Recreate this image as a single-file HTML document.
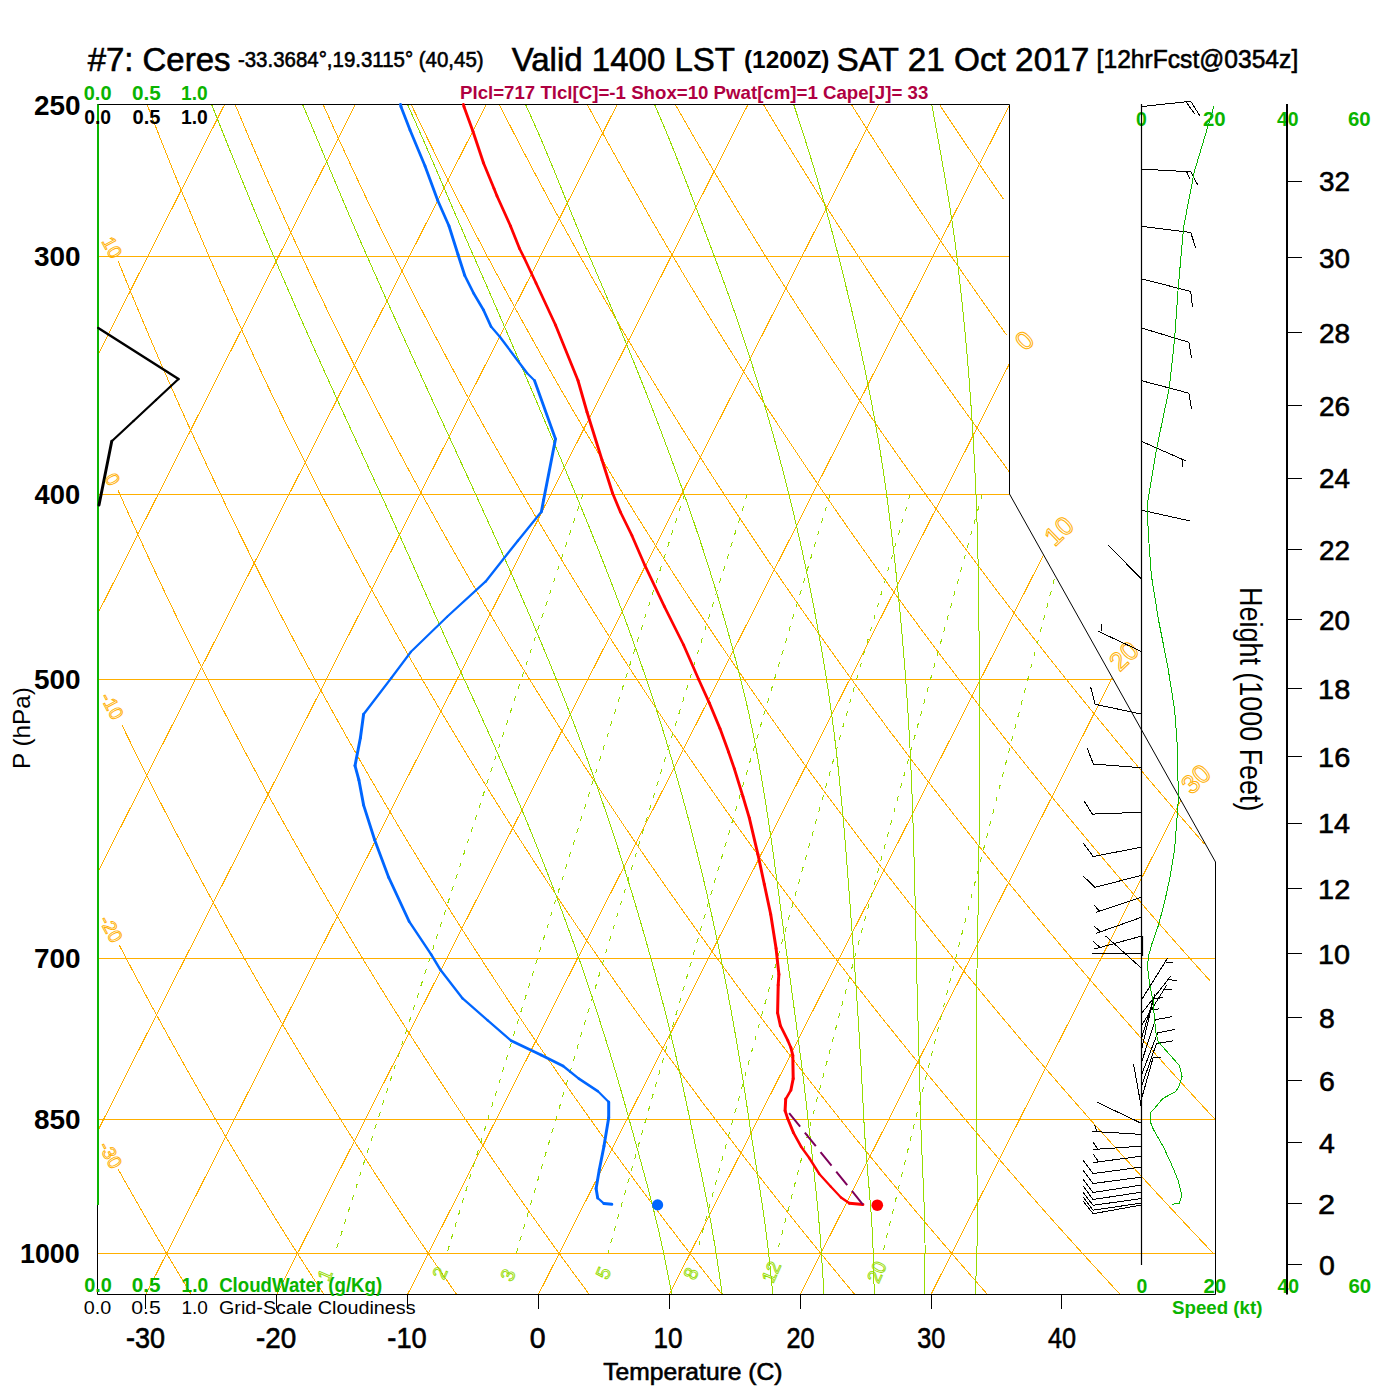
<!DOCTYPE html>
<html><head><meta charset="utf-8"><style>
html,body{margin:0;padding:0;background:#fff;}
svg{display:block;font-family:"Liberation Sans",sans-serif;}
</style></head><body>
<svg width="1400" height="1400" viewBox="0 0 1400 1400">
<rect width="1400" height="1400" fill="#fff"/>
<defs><clipPath id="c"><polygon points="97.5,104.5 1009.5,104.5 1009.5,494.0 1215.5,862.0 1215.5,1294.5 97.5,1294.5"/></clipPath></defs>
<g clip-path="url(#c)" fill="none" shape-rendering="crispEdges">
<line x1="97.00" y1="256.50" x2="1216.00" y2="256.50" stroke="#ffaf00" stroke-width="1"/>
<line x1="97.00" y1="494.50" x2="1216.00" y2="494.50" stroke="#ffaf00" stroke-width="1"/>
<line x1="97.00" y1="679.50" x2="1216.00" y2="679.50" stroke="#ffaf00" stroke-width="1"/>
<line x1="97.00" y1="958.50" x2="1216.00" y2="958.50" stroke="#ffaf00" stroke-width="1"/>
<line x1="97.00" y1="1119.50" x2="1216.00" y2="1119.50" stroke="#ffaf00" stroke-width="1"/>
<line x1="97.00" y1="1253.50" x2="1216.00" y2="1253.50" stroke="#ffaf00" stroke-width="1"/>
<line x1="-642.03" y1="1300.00" x2="-32.30" y2="95.00" stroke="#ffaf00" stroke-width="1"/>
<line x1="-511.18" y1="1300.00" x2="98.55" y2="95.00" stroke="#ffaf00" stroke-width="1"/>
<line x1="-380.33" y1="1300.00" x2="229.40" y2="95.00" stroke="#ffaf00" stroke-width="1"/>
<line x1="-249.48" y1="1300.00" x2="360.25" y2="95.00" stroke="#ffaf00" stroke-width="1"/>
<line x1="-118.63" y1="1300.00" x2="491.10" y2="95.00" stroke="#ffaf00" stroke-width="1"/>
<line x1="12.22" y1="1300.00" x2="621.95" y2="95.00" stroke="#ffaf00" stroke-width="1"/>
<line x1="143.07" y1="1300.00" x2="752.80" y2="95.00" stroke="#ffaf00" stroke-width="1"/>
<line x1="273.92" y1="1300.00" x2="883.65" y2="95.00" stroke="#ffaf00" stroke-width="1"/>
<line x1="404.77" y1="1300.00" x2="1014.50" y2="95.00" stroke="#ffaf00" stroke-width="1"/>
<line x1="535.62" y1="1300.00" x2="1145.35" y2="95.00" stroke="#ffaf00" stroke-width="1"/>
<line x1="666.47" y1="1300.00" x2="1276.20" y2="95.00" stroke="#ffaf00" stroke-width="1"/>
<line x1="797.32" y1="1300.00" x2="1407.05" y2="95.00" stroke="#ffaf00" stroke-width="1"/>
<line x1="928.17" y1="1300.00" x2="1537.90" y2="95.00" stroke="#ffaf00" stroke-width="1"/>
<path d="M118.28,1169.50 L121.56,1175.34 L126.66,1184.39 L131.74,1193.35 L136.80,1202.21 L141.83,1210.97 L146.83,1219.64 L151.82,1228.23 L156.77,1236.72 L161.71,1245.13 L166.62,1253.45 L171.51,1261.70 L176.37,1269.86 L181.21,1277.94 L186.03,1285.94 L190.83,1293.86" stroke="#ffaf00" stroke-width="1"/>
<path d="M119.20,945.00 L119.79,946.12 L126.03,958.04 L132.23,969.79 L138.40,981.37 L144.52,992.80 L150.61,1004.07 L156.67,1015.18 L162.68,1026.15 L168.66,1036.98 L174.61,1047.67 L180.52,1058.22 L186.40,1068.64 L192.24,1078.93 L198.05,1089.09 L203.83,1099.13 L209.58,1109.05 L215.29,1118.85 L220.97,1128.54 L226.62,1138.11 L232.25,1147.58 L237.84,1156.94 L243.40,1166.19 L248.93,1175.34 L254.43,1184.39 L259.91,1193.35 L265.36,1202.21 L270.78,1210.97 L276.17,1219.64 L281.53,1228.23 L286.87,1236.72 L292.18,1245.13 L297.47,1253.45 L302.73,1261.70 L307.96,1269.86 L313.17,1277.94 L318.36,1285.94 L323.52,1293.86" stroke="#ffaf00" stroke-width="1"/>
<path d="M121.68,724.50 L123.19,727.62 L130.74,743.10 L138.22,758.30 L145.65,773.23 L153.03,787.89 L160.35,802.29 L167.61,816.45 L174.82,830.37 L181.98,844.06 L189.09,857.53 L196.14,870.78 L203.15,883.82 L210.11,896.66 L217.02,909.31 L223.88,921.76 L230.70,934.03 L237.47,946.12 L244.20,958.04 L250.88,969.79 L257.52,981.37 L264.12,992.80 L270.68,1004.07 L277.19,1015.18 L283.67,1026.15 L290.10,1036.98 L296.49,1047.67 L302.85,1058.22 L309.17,1068.64 L315.45,1078.93 L321.69,1089.09 L327.90,1099.13 L334.07,1109.05 L340.20,1118.85 L346.30,1128.54 L352.37,1138.11 L358.40,1147.58 L364.40,1156.94 L370.37,1166.19 L376.30,1175.34 L382.20,1184.39 L388.07,1193.35 L393.91,1202.21 L399.72,1210.97 L405.50,1219.64 L411.25,1228.23 L416.97,1236.72 L422.66,1245.13 L428.32,1253.45 L433.95,1261.70 L439.55,1269.86 L445.13,1277.94 L450.68,1285.94 L456.20,1293.86" stroke="#ffaf00" stroke-width="1"/>
<path d="M117.95,490.00 L119.96,494.55 L129.09,515.00 L138.13,534.96 L147.09,554.44 L155.96,573.49 L164.75,592.10 L173.46,610.30 L182.09,628.11 L190.65,645.55 L199.13,662.63 L207.54,679.36 L215.87,695.76 L224.14,711.85 L232.34,727.62 L240.47,743.10 L248.53,758.30 L256.53,773.23 L264.46,787.89 L272.34,802.29 L280.15,816.45 L287.90,830.37 L295.60,844.06 L303.23,857.53 L310.81,870.78 L318.34,883.82 L325.81,896.66 L333.22,909.31 L340.59,921.76 L347.90,934.03 L355.16,946.12 L362.37,958.04 L369.54,969.79 L376.65,981.37 L383.72,992.80 L390.74,1004.07 L397.72,1015.18 L404.65,1026.15 L411.53,1036.98 L418.38,1047.67 L425.18,1058.22 L431.94,1068.64 L438.65,1078.93 L445.33,1089.09 L451.96,1099.13 L458.56,1109.05 L465.12,1118.85 L471.64,1128.54 L478.12,1138.11 L484.56,1147.58 L490.97,1156.94 L497.34,1166.19 L503.67,1175.34 L509.97,1184.39 L516.24,1193.35 L522.47,1202.21 L528.67,1210.97 L534.83,1219.64 L540.96,1228.23 L547.06,1236.72 L553.13,1245.13 L559.17,1253.45 L565.17,1261.70 L571.15,1269.86 L577.09,1277.94 L583.01,1285.94 L588.89,1293.86" stroke="#ffaf00" stroke-width="1"/>
<path d="M118.25,261.30 L127.21,283.43 L138.07,309.73 L148.80,335.22 L159.40,359.94 L169.89,383.95 L180.27,407.28 L190.53,429.97 L200.69,452.06 L210.73,473.58 L220.68,494.55 L230.52,515.00 L240.26,534.96 L249.90,554.44 L259.45,573.49 L268.91,592.10 L278.27,610.30 L287.55,628.11 L296.74,645.55 L305.85,662.63 L314.88,679.36 L323.82,695.76 L332.69,711.85 L341.48,727.62 L350.19,743.10 L358.83,758.30 L367.40,773.23 L375.90,787.89 L384.33,802.29 L392.69,816.45 L400.98,830.37 L409.21,844.06 L417.38,857.53 L425.48,870.78 L433.52,883.82 L441.50,896.66 L449.43,909.31 L457.29,921.76 L465.10,934.03 L472.85,946.12 L480.55,958.04 L488.19,969.79 L495.78,981.37 L503.32,992.80 L510.81,1004.07 L518.24,1015.18 L525.63,1026.15 L532.97,1036.98 L540.26,1047.67 L547.51,1058.22 L554.70,1068.64 L561.86,1078.93 L568.97,1089.09 L576.03,1099.13 L583.05,1109.05 L590.03,1118.85 L596.97,1128.54 L603.86,1138.11 L610.72,1147.58 L617.53,1156.94 L624.31,1166.19 L631.05,1175.34 L637.74,1184.39 L644.40,1193.35 L651.03,1202.21 L657.62,1210.97 L664.17,1219.64 L670.68,1228.23 L677.16,1236.72 L683.61,1245.13 L690.02,1253.45 L696.40,1261.70 L702.74,1269.86 L709.05,1277.94 L715.33,1285.94 L721.58,1293.86" stroke="#ffaf00" stroke-width="1"/>
<path d="M147.38,105.27 L160.03,137.75 L172.51,169.01 L184.83,199.13 L196.99,228.20 L209.00,256.28 L220.85,283.43 L232.56,309.73 L244.12,335.22 L255.55,359.94 L266.84,383.95 L278.00,407.28 L289.03,429.97 L299.93,452.06 L310.72,473.58 L321.39,494.55 L331.94,515.00 L342.38,534.96 L352.72,554.44 L362.94,573.49 L373.07,592.10 L383.09,610.30 L393.01,628.11 L402.84,645.55 L412.58,662.63 L422.22,679.36 L431.77,695.76 L441.24,711.85 L450.62,727.62 L459.92,743.10 L469.14,758.30 L478.28,773.23 L487.34,787.89 L496.32,802.29 L505.23,816.45 L514.07,830.37 L522.83,844.06 L531.52,857.53 L540.15,870.78 L548.71,883.82 L557.20,896.66 L565.63,909.31 L573.99,921.76 L582.30,934.03 L590.54,946.12 L598.72,958.04 L606.84,969.79 L614.91,981.37 L622.92,992.80 L630.87,1004.07 L638.77,1015.18 L646.61,1026.15 L654.40,1036.98 L662.14,1047.67 L669.83,1058.22 L677.47,1068.64 L685.06,1078.93 L692.60,1089.09 L700.10,1099.13 L707.54,1109.05 L714.94,1118.85 L722.30,1128.54 L729.61,1138.11 L736.88,1147.58 L744.10,1156.94 L751.28,1166.19 L758.42,1175.34 L765.51,1184.39 L772.57,1193.35 L779.59,1202.21 L786.56,1210.97 L793.50,1219.64 L800.40,1228.23 L807.26,1236.72 L814.08,1245.13 L820.87,1253.45 L827.62,1261.70 L834.33,1269.86 L841.01,1277.94 L847.65,1285.94 L854.26,1293.86" stroke="#ffaf00" stroke-width="1"/>
<path d="M235.44,105.27 L249.08,137.75 L262.53,169.01 L275.79,199.13 L288.86,228.20 L301.76,256.28 L314.49,283.43 L327.05,309.73 L339.45,335.22 L351.69,359.94 L363.78,383.95 L375.72,407.28 L387.52,429.97 L399.18,452.06 L410.71,473.58 L422.10,494.55 L433.37,515.00 L444.51,534.96 L455.53,554.44 L466.43,573.49 L477.22,592.10 L487.90,610.30 L498.47,628.11 L508.94,645.55 L519.30,662.63 L529.56,679.36 L539.73,695.76 L549.79,711.85 L559.77,727.62 L569.65,743.10 L579.44,758.30 L589.15,773.23 L598.77,787.89 L608.31,802.29 L617.77,816.45 L627.15,830.37 L636.45,844.06 L645.67,857.53 L654.82,870.78 L663.90,883.82 L672.90,896.66 L681.83,909.31 L690.70,921.76 L699.50,934.03 L708.23,946.12 L716.89,958.04 L725.50,969.79 L734.04,981.37 L742.52,992.80 L750.93,1004.07 L759.29,1015.18 L767.59,1026.15 L775.84,1036.98 L784.03,1047.67 L792.16,1058.22 L800.24,1068.64 L808.27,1078.93 L816.24,1089.09 L824.16,1099.13 L832.03,1109.05 L839.86,1118.85 L847.63,1128.54 L855.36,1138.11 L863.03,1147.58 L870.66,1156.94 L878.25,1166.19 L885.79,1175.34 L893.28,1184.39 L900.73,1193.35 L908.14,1202.21 L915.51,1210.97 L922.83,1219.64 L930.11,1228.23 L937.35,1236.72 L944.56,1245.13 L951.72,1253.45 L958.84,1261.70 L965.92,1269.86 L972.97,1277.94 L979.98,1285.94 L986.95,1293.86" stroke="#ffaf00" stroke-width="1"/>
<path d="M323.49,105.27 L338.13,137.75 L352.54,169.01 L366.74,199.13 L380.74,228.20 L394.53,256.28 L408.13,283.43 L421.54,309.73 L434.77,335.22 L447.83,359.94 L460.72,383.95 L473.45,407.28 L486.01,429.97 L498.43,452.06 L510.69,473.58 L522.81,494.55 L534.79,515.00 L546.63,534.96 L558.34,554.44 L569.93,573.49 L581.38,592.10 L592.72,610.30 L603.93,628.11 L615.04,645.55 L626.02,662.63 L636.90,679.36 L647.68,695.76 L658.34,711.85 L668.91,727.62 L679.38,743.10 L689.75,758.30 L700.03,773.23 L710.21,787.89 L720.30,802.29 L730.31,816.45 L740.23,830.37 L750.06,844.06 L759.82,857.53 L769.49,870.78 L779.08,883.82 L788.60,896.66 L798.04,909.31 L807.40,921.76 L816.69,934.03 L825.91,946.12 L835.07,958.04 L844.15,969.79 L853.16,981.37 L862.11,992.80 L871.00,1004.07 L879.82,1015.18 L888.58,1026.15 L897.27,1036.98 L905.91,1047.67 L914.49,1058.22 L923.01,1068.64 L931.47,1078.93 L939.88,1089.09 L948.23,1099.13 L956.53,1109.05 L964.77,1118.85 L972.96,1128.54 L981.10,1138.11 L989.19,1147.58 L997.23,1156.94 L1005.22,1166.19 L1013.16,1175.34 L1021.05,1184.39 L1028.90,1193.35 L1036.70,1202.21 L1044.45,1210.97 L1052.16,1219.64 L1059.83,1228.23 L1067.45,1236.72 L1075.03,1245.13 L1082.57,1253.45 L1090.06,1261.70 L1097.52,1269.86 L1104.93,1277.94 L1112.30,1285.94 L1119.64,1293.86" stroke="#ffaf00" stroke-width="1"/>
<path d="M411.55,105.27 L427.18,137.75 L442.56,169.01 L457.70,199.13 L472.61,228.20 L487.29,256.28 L501.77,283.43 L516.03,309.73 L530.10,335.22 L543.98,359.94 L557.66,383.95 L571.17,407.28 L584.51,429.97 L597.67,452.06 L610.68,473.58 L623.52,494.55 L636.22,515.00 L648.76,534.96 L661.16,554.44 L673.42,573.49 L685.54,592.10 L697.53,610.30 L709.40,628.11 L721.13,645.55 L732.75,662.63 L744.25,679.36 L755.63,695.76 L766.90,711.85 L778.05,727.62 L789.11,743.10 L800.05,758.30 L810.90,773.23 L821.65,787.89 L832.30,802.29 L842.85,816.45 L853.31,830.37 L863.68,844.06 L873.96,857.53 L884.16,870.78 L894.27,883.82 L904.29,896.66 L914.24,909.31 L924.10,921.76 L933.89,934.03 L943.60,946.12 L953.24,958.04 L962.80,969.79 L972.29,981.37 L981.71,992.80 L991.06,1004.07 L1000.34,1015.18 L1009.56,1026.15 L1018.71,1036.98 L1027.80,1047.67 L1036.82,1058.22 L1045.78,1068.64 L1054.68,1078.93 L1063.52,1089.09 L1072.30,1099.13 L1081.02,1109.05 L1089.68,1118.85 L1098.29,1128.54 L1106.85,1138.11 L1115.35,1147.58 L1123.79,1156.94 L1132.19,1166.19 L1140.53,1175.34 L1148.82,1184.39 L1157.06,1193.35 L1165.26,1202.21 L1173.40,1210.97 L1181.50,1219.64 L1189.55,1228.23 L1197.55,1236.72 L1205.51,1245.13 L1213.42,1253.45" stroke="#ffaf00" stroke-width="1"/>
<path d="M499.61,105.27 L516.23,137.75 L532.57,169.01 L548.65,199.13 L564.48,228.20 L580.06,256.28 L595.41,283.43 L610.53,309.73 L625.43,335.22 L640.12,359.94 L654.61,383.95 L668.90,407.28 L683.00,429.97 L696.92,452.06 L710.66,473.58 L724.24,494.55 L737.64,515.00 L750.89,534.96 L763.97,554.44 L776.91,573.49 L789.70,592.10 L802.35,610.30 L814.86,628.11 L827.23,645.55 L839.47,662.63 L851.59,679.36 L863.58,695.76 L875.45,711.85 L887.20,727.62 L898.84,743.10 L910.36,758.30 L921.77,773.23 L933.08,787.89 L944.29,802.29 L955.39,816.45 L966.39,830.37 L977.30,844.06 L988.11,857.53 L998.83,870.78 L1009.45,883.82 L1019.99,896.66 L1030.44,909.31 L1040.81,921.76 L1051.09,934.03 L1061.29,946.12 L1071.41,958.04 L1081.45,969.79 L1091.42,981.37 L1101.31,992.80 L1111.13,1004.07 L1120.87,1015.18 L1130.54,1026.15 L1140.14,1036.98 L1149.68,1047.67 L1159.15,1058.22 L1168.55,1068.64 L1177.88,1078.93 L1187.15,1089.09 L1196.36,1099.13 L1205.51,1109.05 L1214.60,1118.85" stroke="#ffaf00" stroke-width="1"/>
<path d="M587.67,105.27 L605.28,137.75 L622.59,169.01 L639.61,199.13 L656.35,228.20 L672.83,256.28 L689.05,283.43 L705.02,309.73 L720.75,335.22 L736.26,359.94 L751.55,383.95 L766.63,407.28 L781.50,429.97 L796.17,452.06 L810.65,473.58 L824.95,494.55 L839.07,515.00 L853.01,534.96 L866.79,554.44 L880.40,573.49 L893.86,592.10 L907.16,610.30 L920.32,628.11 L933.33,645.55 L946.20,662.63 L958.93,679.36 L971.53,695.76 L984.00,711.85 L996.34,727.62 L1008.56,743.10 L1020.66,758.30 L1032.65,773.23 L1044.52,787.89 L1056.28,802.29 L1067.93,816.45 L1079.47,830.37 L1090.91,844.06 L1102.25,857.53 L1113.49,870.78 L1124.64,883.82 L1135.69,896.66 L1146.64,909.31 L1157.51,921.76 L1168.29,934.03 L1178.98,946.12 L1189.59,958.04 L1200.11,969.79 L1210.55,981.37" stroke="#ffaf00" stroke-width="1"/>
<path d="M675.72,105.27 L694.33,137.75 L712.60,169.01 L730.56,199.13 L748.22,228.20 L765.59,256.28 L782.68,283.43 L799.51,309.73 L816.08,335.22 L832.40,359.94 L848.49,383.95 L864.35,407.28 L879.99,429.97 L895.42,452.06 L910.64,473.58 L925.66,494.55 L940.49,515.00 L955.14,534.96 L969.60,554.44 L983.90,573.49 L998.02,592.10 L1011.98,610.30 L1025.78,628.11 L1039.43,645.55 L1052.92,662.63 L1066.27,679.36 L1079.48,695.76 L1092.55,711.85 L1105.49,727.62 L1118.29,743.10 L1130.97,758.30 L1143.52,773.23 L1155.96,787.89 L1168.27,802.29 L1180.47,816.45 L1192.55,830.37 L1204.53,844.06" stroke="#ffaf00" stroke-width="1"/>
<path d="M763.78,105.27 L783.38,137.75 L802.62,169.01 L821.52,199.13 L840.09,228.20 L858.36,256.28 L876.32,283.43 L894.00,309.73 L911.41,335.22 L928.55,359.94 L945.43,383.95 L962.08,407.28 L978.48,429.97 L994.66,452.06 L1010.62,473.58" stroke="#ffaf00" stroke-width="1"/>
<path d="M851.84,105.27 L872.43,137.75 L892.63,169.01 L912.47,199.13 L931.97,228.20 L951.12,256.28 L969.96,283.43 L988.49,309.73 L1006.73,335.22" stroke="#ffaf00" stroke-width="1"/>
<path d="M939.90,105.27 L961.48,137.75 L982.65,169.01 L1003.43,199.13" stroke="#ffaf00" stroke-width="1"/>
<path d="M205.92,90.23 L208.59,96.95 L211.24,103.61 L213.89,110.22 L216.51,116.78 L219.12,123.29 L221.71,129.75 L224.27,136.16 L226.83,142.52 L229.36,148.83 L231.88,155.09 L234.39,161.31 L236.88,167.48 L239.36,173.60 L241.83,179.68 L244.28,185.71 L246.73,191.71 L249.17,197.65 L251.59,203.56 L254.01,209.42 L256.42,215.24 L258.82,221.03 L261.22,226.77 L263.60,232.47 L265.99,238.13 L268.36,243.76 L270.73,249.35 L273.10,254.89 L275.46,260.41 L277.81,265.88 L280.16,271.32 L282.49,276.73 L284.82,282.10 L287.14,287.43 L289.45,292.73 L291.75,298.00 L294.05,303.23 L296.33,308.43 L298.61,313.60 L300.88,318.74 L303.14,323.84 L305.39,328.92 L307.63,333.96 L309.87,338.97 L312.09,343.95 L314.31,348.91 L316.52,353.83 L318.72,358.72 L320.91,363.59 L323.09,368.42 L325.27,373.23 L327.43,378.01 L329.58,382.77 L331.73,387.49 L333.87,392.19 L336.00,396.86 L338.12,401.51 L340.23,406.13 L342.33,410.73 L344.42,415.30 L346.50,419.84 L348.58,424.36 L350.64,428.85 L352.70,433.33 L354.74,437.77 L356.78,442.20 L358.81,446.60 L360.82,450.97 L362.83,455.33 L364.83,459.66 L366.82,463.96 L368.80,468.25 L370.77,472.51 L372.74,476.76 L374.69,480.98 L376.63,485.18 L378.56,489.35 L380.49,493.51 L382.40,497.65 L384.30,501.76 L386.18,505.86 L388.04,509.93 L389.90,513.99 L391.74,518.02 L393.56,522.04 L395.37,526.03 L397.17,530.01 L398.96,533.97 L400.74,537.91 L402.50,541.83 L404.25,545.73 L405.99,549.62 L407.73,553.48 L409.45,557.33 L411.16,561.16 L412.86,564.97 L414.56,568.77 L416.24,572.54 L417.92,576.30 L419.58,580.05 L421.24,583.77 L422.90,587.48 L424.54,591.18 L426.18,594.85 L427.81,598.52 L429.43,602.16 L431.05,605.79 L432.66,609.40 L434.27,613.00 L435.87,616.58 L437.46,620.15 L439.05,623.70 L440.63,627.23 L442.21,630.75 L443.79,634.26 L445.36,637.75 L446.92,641.23 L448.48,644.69 L450.04,648.14 L451.59,651.57 L453.14,654.99 L454.69,658.39 L456.23,661.78 L457.77,665.16 L459.31,668.52 L460.84,671.87 L462.37,675.21 L463.90,678.53 L465.43,681.84 L466.94,685.14 L468.45,688.42 L469.95,691.69 L471.44,694.95 L472.92,698.20 L474.40,701.43 L475.86,704.65 L477.32,707.85 L478.77,711.05 L480.21,714.23 L481.64,717.40 L483.06,720.56 L484.47,723.71 L485.88,726.84 L487.28,729.96 L488.67,733.07 L490.05,736.17 L491.42,739.26 L492.79,742.34 L494.15,745.40 L495.49,748.46 L496.84,751.50 L498.17,754.53 L499.49,757.55 L500.81,760.56 L502.12,763.56 L503.42,766.54 L504.71,769.52 L506.00,772.49 L507.27,775.44 L508.54,778.39 L509.80,781.32 L511.06,784.24 L512.30,787.16 L513.54,790.06 L514.77,792.96 L516.00,795.84 L517.21,798.71 L518.42,801.58 L519.62,804.43 L520.81,807.27 L522.00,810.11 L523.18,812.93 L524.35,815.75 L525.51,818.55 L526.67,821.35 L527.82,824.13 L528.96,826.91 L530.09,829.68 L531.22,832.44 L532.34,835.19 L533.46,837.93 L534.56,840.66 L535.66,843.38 L536.75,846.09 L537.84,848.80 L538.92,851.49 L539.99,854.18 L541.06,856.86 L542.12,859.53 L543.17,862.19 L544.21,864.84 L545.25,867.48 L546.28,870.12 L547.31,872.75 L548.33,875.37 L549.34,877.98 L550.35,880.58 L551.35,883.17 L552.34,885.76 L553.33,888.34 L554.31,890.91 L555.29,893.47 L556.26,896.03 L557.22,898.57 L558.18,901.11 L559.13,903.64 L560.07,906.16 L561.01,908.68 L561.94,911.19 L562.87,913.69 L563.79,916.18 L564.71,918.67 L565.62,921.14 L566.52,923.62 L567.42,926.08 L568.31,928.53 L569.20,930.98 L570.08,933.42 L570.96,935.86 L571.83,938.29 L572.70,940.71 L573.56,943.12 L574.41,945.52 L575.26,947.92 L576.10,950.32 L576.94,952.70 L577.78,955.08 L578.60,957.45 L579.43,959.81 L580.25,962.17 L581.06,964.52 L581.87,966.87 L582.67,969.21 L583.47,971.54 L584.27,973.86 L585.06,976.18 L585.85,978.49 L586.63,980.80 L587.40,983.10 L588.18,985.39 L588.94,987.68 L589.71,989.96 L590.47,992.23 L591.22,994.50 L591.97,996.76 L592.72,999.02 L593.46,1001.26 L594.20,1003.51 L594.93,1005.74 L595.66,1007.98 L596.38,1010.20 L597.10,1012.42 L597.82,1014.63 L598.53,1016.84 L599.24,1019.04 L599.94,1021.24 L600.64,1023.43 L601.34,1025.61 L602.03,1027.79 L602.72,1029.96 L603.40,1032.13 L604.08,1034.29 L604.76,1036.44 L605.43,1038.59 L606.10,1040.74 L606.77,1042.88 L607.43,1045.01 L608.08,1047.14 L608.74,1049.26 L609.39,1051.38 L610.03,1053.49 L610.67,1055.59 L611.31,1057.70 L611.95,1059.79 L612.58,1061.88 L613.21,1063.97 L613.83,1066.05 L614.45,1068.12 L615.07,1070.19 L615.68,1072.25 L616.29,1074.31 L616.90,1076.37 L617.50,1078.42 L618.10,1080.46 L618.69,1082.50 L619.29,1084.53 L619.88,1086.56 L620.46,1088.58 L621.04,1090.60 L621.62,1092.62 L622.20,1094.63 L622.77,1096.63 L623.34,1098.63 L623.91,1100.62 L624.47,1102.61 L625.03,1104.60 L625.59,1106.58 L626.14,1108.55 L626.69,1110.53 L627.24,1112.49 L627.78,1114.45 L628.32,1116.41 L628.86,1118.36 L629.40,1120.31 L629.93,1122.25 L630.47,1124.19 L631.00,1126.13 L631.54,1128.06 L632.07,1129.98 L632.60,1131.90 L633.13,1133.82 L633.66,1135.73 L634.19,1137.64 L634.72,1139.54 L635.25,1141.44 L635.77,1143.33 L636.30,1145.22 L636.82,1147.11 L637.34,1148.99 L637.86,1150.87 L638.38,1152.74 L638.89,1154.61 L639.41,1156.47 L639.92,1158.33 L640.43,1160.19 L640.94,1162.04 L641.45,1163.89 L641.95,1165.73 L642.46,1167.57 L642.96,1169.41 L643.45,1171.24 L643.95,1173.06 L644.44,1174.89 L644.94,1176.71 L645.42,1178.52 L645.91,1180.33 L646.40,1182.14 L646.88,1183.94 L647.36,1185.74 L647.83,1187.54 L648.31,1189.33 L648.78,1191.12 L649.24,1192.90 L649.71,1194.68 L650.17,1196.46 L650.63,1198.23 L651.09,1200.00 L651.54,1201.77 L651.99,1203.53 L652.44,1205.28 L652.88,1207.04 L653.32,1208.79 L653.76,1210.54 L654.19,1212.28 L654.62,1214.02 L655.05,1215.75 L655.48,1217.48 L655.90,1219.21 L656.31,1220.94 L656.73,1222.66 L657.14,1224.38 L657.55,1226.09 L657.95,1227.80 L658.35,1229.51 L658.74,1231.21 L659.14,1232.91 L659.53,1234.61 L659.91,1236.30 L660.29,1237.99 L660.67,1239.67 L661.04,1241.36 L661.41,1243.04 L661.78,1244.71 L662.14,1246.38 L662.50,1248.05 L662.85,1249.72 L663.20,1251.38 L663.55,1253.04 L663.89,1254.70 L664.23,1256.35 L664.57,1258.00 L664.91,1259.64 L665.24,1261.29 L665.58,1262.92 L665.91,1264.56 L666.24,1266.19 L666.57,1267.82 L666.89,1269.45 L667.22,1271.07 L667.54,1272.69 L667.87,1274.31 L668.19,1275.92 L668.51,1277.53 L668.82,1279.14 L669.14,1280.75 L669.45,1282.35 L669.77,1283.95 L670.08,1285.54 L670.39,1287.13 L670.70,1288.72 L671.00,1290.31 L671.31,1291.89 L671.61,1293.47 L671.91,1295.05 L672.21,1296.62" stroke="#96dc00" stroke-width="1"/>
<path d="M296.51,90.23 L299.36,96.95 L302.19,103.61 L305.01,110.22 L307.80,116.78 L310.55,123.29 L313.28,129.75 L315.98,136.16 L318.65,142.52 L321.30,148.83 L323.92,155.09 L326.53,161.31 L329.11,167.48 L331.68,173.60 L334.23,179.68 L336.77,185.71 L339.29,191.71 L341.81,197.65 L344.31,203.56 L346.80,209.42 L349.28,215.24 L351.75,221.03 L354.22,226.77 L356.68,232.47 L359.13,238.13 L361.58,243.76 L364.03,249.35 L366.48,254.89 L368.92,260.41 L371.35,265.88 L373.77,271.32 L376.18,276.73 L378.58,282.10 L380.97,287.43 L383.35,292.73 L385.71,298.00 L388.07,303.23 L390.42,308.43 L392.75,313.60 L395.08,318.74 L397.39,323.84 L399.70,328.92 L401.99,333.96 L404.27,338.97 L406.54,343.95 L408.81,348.91 L411.06,353.83 L413.29,358.72 L415.52,363.59 L417.74,368.42 L419.95,373.23 L422.14,378.01 L424.33,382.77 L426.50,387.49 L428.66,392.19 L430.81,396.86 L432.95,401.51 L435.08,406.13 L437.20,410.73 L439.30,415.30 L441.40,419.84 L443.48,424.36 L445.56,428.85 L447.62,433.33 L449.67,437.77 L451.71,442.20 L453.74,446.60 L455.75,450.97 L457.76,455.33 L459.75,459.66 L461.73,463.96 L463.71,468.25 L465.66,472.51 L467.61,476.76 L469.55,480.98 L471.48,485.18 L473.39,489.35 L475.29,493.51 L477.18,497.65 L479.06,501.76 L480.93,505.86 L482.79,509.93 L484.63,513.99 L486.46,518.02 L488.28,522.04 L490.09,526.03 L491.89,530.01 L493.68,533.97 L495.45,537.91 L497.21,541.83 L498.97,545.73 L500.71,549.62 L502.43,553.48 L504.15,557.33 L505.86,561.16 L507.55,564.97 L509.23,568.77 L510.91,572.54 L512.57,576.30 L514.22,580.05 L515.85,583.77 L517.48,587.48 L519.10,591.18 L520.70,594.85 L522.30,598.52 L523.88,602.16 L525.45,605.79 L527.01,609.40 L528.56,613.00 L530.10,616.58 L531.63,620.15 L533.15,623.70 L534.66,627.23 L536.16,630.75 L537.64,634.26 L539.12,637.75 L540.59,641.23 L542.04,644.69 L543.49,648.14 L544.92,651.57 L546.35,654.99 L547.76,658.39 L549.17,661.78 L550.57,665.16 L551.95,668.52 L553.33,671.87 L554.69,675.21 L556.05,678.53 L557.39,681.84 L558.73,685.14 L560.05,688.42 L561.37,691.69 L562.67,694.95 L563.96,698.20 L565.25,701.43 L566.52,704.65 L567.78,707.85 L569.03,711.05 L570.27,714.23 L571.51,717.40 L572.73,720.56 L573.94,723.71 L575.14,726.84 L576.34,729.96 L577.52,733.07 L578.70,736.17 L579.86,739.26 L581.02,742.34 L582.16,745.40 L583.30,748.46 L584.43,751.50 L585.55,754.53 L586.66,757.55 L587.77,760.56 L588.86,763.56 L589.95,766.54 L591.02,769.52 L592.09,772.49 L593.15,775.44 L594.21,778.39 L595.25,781.32 L596.29,784.24 L597.32,787.16 L598.34,790.06 L599.35,792.96 L600.36,795.84 L601.36,798.71 L602.35,801.58 L603.33,804.43 L604.30,807.27 L605.27,810.11 L606.23,812.93 L607.19,815.75 L608.14,818.55 L609.08,821.35 L610.01,824.13 L610.93,826.91 L611.85,829.68 L612.77,832.44 L613.67,835.19 L614.57,837.93 L615.47,840.66 L616.35,843.38 L617.23,846.09 L618.11,848.80 L618.98,851.49 L619.84,854.18 L620.69,856.86 L621.54,859.53 L622.39,862.19 L623.23,864.84 L624.06,867.48 L624.88,870.12 L625.71,872.75 L626.52,875.37 L627.33,877.98 L628.13,880.58 L628.93,883.17 L629.73,885.76 L630.52,888.34 L631.30,890.91 L632.08,893.47 L632.85,896.03 L633.62,898.57 L634.38,901.11 L635.14,903.64 L635.89,906.16 L636.64,908.68 L637.38,911.19 L638.12,913.69 L638.85,916.18 L639.58,918.67 L640.31,921.14 L641.03,923.62 L641.74,926.08 L642.45,928.53 L643.16,930.98 L643.86,933.42 L644.56,935.86 L645.26,938.29 L645.95,940.71 L646.63,943.12 L647.31,945.52 L647.99,947.92 L648.67,950.32 L649.34,952.70 L650.00,955.08 L650.66,957.45 L651.32,959.81 L651.98,962.17 L652.62,964.52 L653.27,966.87 L653.91,969.21 L654.55,971.54 L655.18,973.86 L655.80,976.18 L656.43,978.49 L657.05,980.80 L657.66,983.10 L658.27,985.39 L658.88,987.68 L659.48,989.96 L660.08,992.23 L660.67,994.50 L661.26,996.76 L661.85,999.02 L662.43,1001.26 L663.01,1003.51 L663.58,1005.74 L664.15,1007.98 L664.72,1010.20 L665.28,1012.42 L665.84,1014.63 L666.40,1016.84 L666.95,1019.04 L667.50,1021.24 L668.04,1023.43 L668.58,1025.61 L669.12,1027.79 L669.65,1029.96 L670.19,1032.13 L670.71,1034.29 L671.24,1036.44 L671.76,1038.59 L672.27,1040.74 L672.79,1042.88 L673.30,1045.01 L673.80,1047.14 L674.31,1049.26 L674.81,1051.38 L675.30,1053.49 L675.80,1055.59 L676.29,1057.70 L676.78,1059.79 L677.26,1061.88 L677.74,1063.97 L678.22,1066.05 L678.70,1068.12 L679.17,1070.19 L679.64,1072.25 L680.11,1074.31 L680.57,1076.37 L681.03,1078.42 L681.49,1080.46 L681.94,1082.50 L682.39,1084.53 L682.84,1086.56 L683.29,1088.58 L683.73,1090.60 L684.18,1092.62 L684.61,1094.63 L685.05,1096.63 L685.48,1098.63 L685.91,1100.62 L686.34,1102.61 L686.77,1104.60 L687.19,1106.58 L687.61,1108.55 L688.03,1110.53 L688.44,1112.49 L688.85,1114.45 L689.26,1116.41 L689.67,1118.36 L690.08,1120.31 L690.48,1122.25 L690.89,1124.19 L691.29,1126.13 L691.70,1128.06 L692.10,1129.98 L692.51,1131.90 L692.91,1133.82 L693.31,1135.73 L693.72,1137.64 L694.12,1139.54 L694.52,1141.44 L694.92,1143.33 L695.31,1145.22 L695.71,1147.11 L696.11,1148.99 L696.50,1150.87 L696.90,1152.74 L697.29,1154.61 L697.68,1156.47 L698.07,1158.33 L698.46,1160.19 L698.85,1162.04 L699.24,1163.89 L699.62,1165.73 L700.00,1167.57 L700.39,1169.41 L700.77,1171.24 L701.14,1173.06 L701.52,1174.89 L701.90,1176.71 L702.27,1178.52 L702.64,1180.33 L703.01,1182.14 L703.38,1183.94 L703.74,1185.74 L704.11,1187.54 L704.47,1189.33 L704.83,1191.12 L705.18,1192.90 L705.54,1194.68 L705.89,1196.46 L706.24,1198.23 L706.59,1200.00 L706.93,1201.77 L707.28,1203.53 L707.62,1205.28 L707.96,1207.04 L708.29,1208.79 L708.63,1210.54 L708.96,1212.28 L709.28,1214.02 L709.61,1215.75 L709.93,1217.48 L710.25,1219.21 L710.57,1220.94 L710.89,1222.66 L711.20,1224.38 L711.51,1226.09 L711.82,1227.80 L712.12,1229.51 L712.42,1231.21 L712.72,1232.91 L713.01,1234.61 L713.31,1236.30 L713.59,1237.99 L713.88,1239.67 L714.16,1241.36 L714.44,1243.04 L714.72,1244.71 L715.00,1246.38 L715.27,1248.05 L715.53,1249.72 L715.80,1251.38 L716.06,1253.04 L716.32,1254.70 L716.58,1256.35 L716.83,1258.00 L717.09,1259.64 L717.34,1261.29 L717.59,1262.92 L717.84,1264.56 L718.09,1266.19 L718.34,1267.82 L718.59,1269.45 L718.83,1271.07 L719.08,1272.69 L719.32,1274.31 L719.56,1275.92 L719.80,1277.53 L720.04,1279.14 L720.28,1280.75 L720.51,1282.35 L720.75,1283.95 L720.98,1285.54 L721.22,1287.13 L721.45,1288.72 L721.68,1290.31 L721.91,1291.89 L722.14,1293.47 L722.37,1295.05 L722.59,1296.62" stroke="#96dc00" stroke-width="1"/>
<path d="M401.12,90.23 L404.14,96.95 L407.15,103.61 L410.13,110.22 L413.07,116.78 L415.97,123.29 L418.83,129.75 L421.65,136.16 L424.43,142.52 L427.18,148.83 L429.90,155.09 L432.59,161.31 L435.26,167.48 L437.90,173.60 L440.51,179.68 L443.11,185.71 L445.68,191.71 L448.24,197.65 L450.78,203.56 L453.30,209.42 L455.81,215.24 L458.31,221.03 L460.79,226.77 L463.26,232.47 L465.73,238.13 L468.19,243.76 L470.64,249.35 L473.08,254.89 L475.51,260.41 L477.93,265.88 L480.32,271.32 L482.69,276.73 L485.05,282.10 L487.38,287.43 L489.70,292.73 L492.00,298.00 L494.28,303.23 L496.54,308.43 L498.79,313.60 L501.02,318.74 L503.23,323.84 L505.43,328.92 L507.61,333.96 L509.77,338.97 L511.92,343.95 L514.05,348.91 L516.17,353.83 L518.27,358.72 L520.36,363.59 L522.43,368.42 L524.49,373.23 L526.53,378.01 L528.56,382.77 L530.58,387.49 L532.58,392.19 L534.57,396.86 L536.55,401.51 L538.51,406.13 L540.46,410.73 L542.40,415.30 L544.33,419.84 L546.24,424.36 L548.14,428.85 L550.03,433.33 L551.91,437.77 L553.78,442.20 L555.63,446.60 L557.48,450.97 L559.31,455.33 L561.13,459.66 L562.94,463.96 L564.74,468.25 L566.53,472.51 L568.31,476.76 L570.08,480.98 L571.84,485.18 L573.59,489.35 L575.33,493.51 L577.06,497.65 L578.77,501.76 L580.47,505.86 L582.16,509.93 L583.83,513.99 L585.49,518.02 L587.14,522.04 L588.78,526.03 L590.40,530.01 L592.00,533.97 L593.60,537.91 L595.18,541.83 L596.75,545.73 L598.30,549.62 L599.84,553.48 L601.37,557.33 L602.88,561.16 L604.39,564.97 L605.88,568.77 L607.35,572.54 L608.82,576.30 L610.27,580.05 L611.71,583.77 L613.14,587.48 L614.55,591.18 L615.95,594.85 L617.34,598.52 L618.72,602.16 L620.08,605.79 L621.44,609.40 L622.78,613.00 L624.11,616.58 L625.43,620.15 L626.73,623.70 L628.03,627.23 L629.31,630.75 L630.58,634.26 L631.84,637.75 L633.09,641.23 L634.33,644.69 L635.55,648.14 L636.77,651.57 L637.97,654.99 L639.17,658.39 L640.35,661.78 L641.52,665.16 L642.69,668.52 L643.84,671.87 L644.98,675.21 L646.11,678.53 L647.23,681.84 L648.34,685.14 L649.43,688.42 L650.52,691.69 L651.60,694.95 L652.67,698.20 L653.73,701.43 L654.78,704.65 L655.82,707.85 L656.84,711.05 L657.86,714.23 L658.87,717.40 L659.87,720.56 L660.87,723.71 L661.85,726.84 L662.82,729.96 L663.79,733.07 L664.74,736.17 L665.69,739.26 L666.63,742.34 L667.56,745.40 L668.48,748.46 L669.39,751.50 L670.29,754.53 L671.19,757.55 L672.08,760.56 L672.96,763.56 L673.83,766.54 L674.70,769.52 L675.55,772.49 L676.40,775.44 L677.24,778.39 L678.08,781.32 L678.90,784.24 L679.72,787.16 L680.54,790.06 L681.34,792.96 L682.14,795.84 L682.93,798.71 L683.71,801.58 L684.49,804.43 L685.26,807.27 L686.03,810.11 L686.78,812.93 L687.53,815.75 L688.28,818.55 L689.02,821.35 L689.75,824.13 L690.47,826.91 L691.19,829.68 L691.91,832.44 L692.62,835.19 L693.32,837.93 L694.01,840.66 L694.70,843.38 L695.39,846.09 L696.07,848.80 L696.74,851.49 L697.41,854.18 L698.07,856.86 L698.73,859.53 L699.38,862.19 L700.02,864.84 L700.66,867.48 L701.30,870.12 L701.93,872.75 L702.56,875.37 L703.18,877.98 L703.79,880.58 L704.40,883.17 L705.01,885.76 L705.61,888.34 L706.21,890.91 L706.80,893.47 L707.39,896.03 L707.97,898.57 L708.55,901.11 L709.12,903.64 L709.69,906.16 L710.26,908.68 L710.82,911.19 L711.37,913.69 L711.93,916.18 L712.48,918.67 L713.02,921.14 L713.56,923.62 L714.10,926.08 L714.63,928.53 L715.16,930.98 L715.68,933.42 L716.20,935.86 L716.72,938.29 L717.23,940.71 L717.74,943.12 L718.25,945.52 L718.75,947.92 L719.25,950.32 L719.75,952.70 L720.24,955.08 L720.73,957.45 L721.21,959.81 L721.69,962.17 L722.17,964.52 L722.64,966.87 L723.11,969.21 L723.58,971.54 L724.04,973.86 L724.50,976.18 L724.96,978.49 L725.41,980.80 L725.86,983.10 L726.31,985.39 L726.75,987.68 L727.19,989.96 L727.62,992.23 L728.06,994.50 L728.48,996.76 L728.91,999.02 L729.33,1001.26 L729.75,1003.51 L730.17,1005.74 L730.58,1007.98 L730.99,1010.20 L731.40,1012.42 L731.81,1014.63 L732.21,1016.84 L732.61,1019.04 L733.00,1021.24 L733.39,1023.43 L733.78,1025.61 L734.17,1027.79 L734.56,1029.96 L734.94,1032.13 L735.32,1034.29 L735.69,1036.44 L736.07,1038.59 L736.44,1040.74 L736.81,1042.88 L737.17,1045.01 L737.53,1047.14 L737.89,1049.26 L738.25,1051.38 L738.61,1053.49 L738.96,1055.59 L739.31,1057.70 L739.66,1059.79 L740.00,1061.88 L740.35,1063.97 L740.69,1066.05 L741.03,1068.12 L741.36,1070.19 L741.70,1072.25 L742.03,1074.31 L742.36,1076.37 L742.68,1078.42 L743.01,1080.46 L743.33,1082.50 L743.65,1084.53 L743.97,1086.56 L744.29,1088.58 L744.60,1090.60 L744.91,1092.62 L745.22,1094.63 L745.53,1096.63 L745.83,1098.63 L746.14,1100.62 L746.44,1102.61 L746.74,1104.60 L747.04,1106.58 L747.33,1108.55 L747.62,1110.53 L747.92,1112.49 L748.21,1114.45 L748.49,1116.41 L748.78,1118.36 L749.07,1120.31 L749.35,1122.25 L749.64,1124.19 L749.93,1126.13 L750.22,1128.06 L750.51,1129.98 L750.81,1131.90 L751.10,1133.82 L751.39,1135.73 L751.69,1137.64 L751.98,1139.54 L752.28,1141.44 L752.58,1143.33 L752.87,1145.22 L753.17,1147.11 L753.47,1148.99 L753.76,1150.87 L754.06,1152.74 L754.36,1154.61 L754.65,1156.47 L754.95,1158.33 L755.25,1160.19 L755.54,1162.04 L755.84,1163.89 L756.13,1165.73 L756.42,1167.57 L756.72,1169.41 L757.01,1171.24 L757.30,1173.06 L757.59,1174.89 L757.88,1176.71 L758.16,1178.52 L758.45,1180.33 L758.73,1182.14 L759.02,1183.94 L759.30,1185.74 L759.58,1187.54 L759.86,1189.33 L760.14,1191.12 L760.41,1192.90 L760.69,1194.68 L760.96,1196.46 L761.23,1198.23 L761.50,1200.00 L761.77,1201.77 L762.03,1203.53 L762.29,1205.28 L762.55,1207.04 L762.81,1208.79 L763.07,1210.54 L763.32,1212.28 L763.57,1214.02 L763.82,1215.75 L764.07,1217.48 L764.31,1219.21 L764.55,1220.94 L764.79,1222.66 L765.02,1224.38 L765.26,1226.09 L765.49,1227.80 L765.71,1229.51 L765.94,1231.21 L766.16,1232.91 L766.38,1234.61 L766.59,1236.30 L766.81,1237.99 L767.01,1239.67 L767.22,1241.36 L767.42,1243.04 L767.62,1244.71 L767.82,1246.38 L768.01,1248.05 L768.20,1249.72 L768.39,1251.38 L768.57,1253.04 L768.75,1254.70 L768.93,1256.35 L769.11,1258.00 L769.29,1259.64 L769.46,1261.29 L769.64,1262.92 L769.81,1264.56 L769.99,1266.19 L770.16,1267.82 L770.33,1269.45 L770.50,1271.07 L770.67,1272.69 L770.84,1274.31 L771.01,1275.92 L771.17,1277.53 L771.34,1279.14 L771.50,1280.75 L771.67,1282.35 L771.83,1283.95 L771.99,1285.54 L772.16,1287.13 L772.32,1288.72 L772.48,1290.31 L772.64,1291.89 L772.79,1293.47 L772.95,1295.05 L773.11,1296.62" stroke="#96dc00" stroke-width="1"/>
<path d="M518.89,90.23 L522.02,96.95 L525.12,103.61 L528.19,110.22 L531.17,116.78 L534.08,123.29 L536.93,129.75 L539.71,136.16 L542.43,142.52 L545.10,148.83 L547.72,155.09 L550.30,161.31 L552.84,167.48 L555.35,173.60 L557.82,179.68 L560.27,185.71 L562.69,191.71 L565.10,197.65 L567.49,203.56 L569.87,209.42 L572.24,215.24 L574.60,221.03 L576.96,226.77 L579.31,232.47 L581.67,238.13 L584.04,243.76 L586.41,249.35 L588.79,254.89 L591.18,260.41 L593.54,265.88 L595.88,271.32 L598.20,276.73 L600.50,282.10 L602.77,287.43 L605.03,292.73 L607.26,298.00 L609.47,303.23 L611.67,308.43 L613.84,313.60 L615.99,318.74 L618.12,323.84 L620.22,328.92 L622.31,333.96 L624.38,338.97 L626.43,343.95 L628.46,348.91 L630.47,353.83 L632.46,358.72 L634.43,363.59 L636.38,368.42 L638.31,373.23 L640.22,378.01 L642.12,382.77 L643.99,387.49 L645.85,392.19 L647.69,396.86 L649.51,401.51 L651.31,406.13 L653.09,410.73 L654.86,415.30 L656.61,419.84 L658.35,424.36 L660.06,428.85 L661.76,433.33 L663.44,437.77 L665.11,442.20 L666.76,446.60 L668.39,450.97 L670.01,455.33 L671.61,459.66 L673.20,463.96 L674.77,468.25 L676.33,472.51 L677.87,476.76 L679.39,480.98 L680.90,485.18 L682.40,489.35 L683.88,493.51 L685.35,497.65 L686.80,501.76 L688.24,505.86 L689.66,509.93 L691.07,513.99 L692.46,518.02 L693.83,522.04 L695.19,526.03 L696.53,530.01 L697.86,533.97 L699.18,537.91 L700.48,541.83 L701.76,545.73 L703.03,549.62 L704.29,553.48 L705.53,557.33 L706.76,561.16 L707.98,564.97 L709.18,568.77 L710.37,572.54 L711.54,576.30 L712.71,580.05 L713.86,583.77 L714.99,587.48 L716.12,591.18 L717.23,594.85 L718.33,598.52 L719.41,602.16 L720.49,605.79 L721.55,609.40 L722.60,613.00 L723.64,616.58 L724.67,620.15 L725.68,623.70 L726.69,627.23 L727.68,630.75 L728.66,634.26 L729.64,637.75 L730.60,641.23 L731.55,644.69 L732.49,648.14 L733.41,651.57 L734.33,654.99 L735.24,658.39 L736.14,661.78 L737.03,665.16 L737.90,668.52 L738.77,671.87 L739.63,675.21 L740.48,678.53 L741.32,681.84 L742.14,685.14 L742.95,688.42 L743.75,691.69 L744.53,694.95 L745.30,698.20 L746.06,701.43 L746.80,704.65 L747.53,707.85 L748.25,711.05 L748.96,714.23 L749.66,717.40 L750.34,720.56 L751.02,723.71 L751.68,726.84 L752.33,729.96 L752.97,733.07 L753.61,736.17 L754.23,739.26 L754.84,742.34 L755.45,745.40 L756.04,748.46 L756.63,751.50 L757.20,754.53 L757.77,757.55 L758.33,760.56 L758.88,763.56 L759.43,766.54 L759.96,769.52 L760.49,772.49 L761.01,775.44 L761.53,778.39 L762.03,781.32 L762.53,784.24 L763.03,787.16 L763.52,790.06 L764.00,792.96 L764.47,795.84 L764.94,798.71 L765.40,801.58 L765.86,804.43 L766.31,807.27 L766.76,810.11 L767.20,812.93 L767.64,815.75 L768.07,818.55 L768.49,821.35 L768.92,824.13 L769.33,826.91 L769.75,829.68 L770.15,832.44 L770.56,835.19 L770.96,837.93 L771.36,840.66 L771.75,843.38 L772.14,846.09 L772.53,848.80 L772.91,851.49 L773.29,854.18 L773.66,856.86 L774.04,859.53 L774.41,862.19 L774.77,864.84 L775.14,867.48 L775.50,870.12 L775.86,872.75 L776.22,875.37 L776.57,877.98 L776.92,880.58 L777.27,883.17 L777.62,885.76 L777.97,888.34 L778.31,890.91 L778.65,893.47 L779.00,896.03 L779.33,898.57 L779.67,901.11 L780.01,903.64 L780.34,906.16 L780.68,908.68 L781.01,911.19 L781.34,913.69 L781.67,916.18 L782.00,918.67 L782.33,921.14 L782.66,923.62 L782.98,926.08 L783.31,928.53 L783.63,930.98 L783.96,933.42 L784.28,935.86 L784.60,938.29 L784.93,940.71 L785.25,943.12 L785.57,945.52 L785.90,947.92 L786.22,950.32 L786.54,952.70 L786.86,955.08 L787.18,957.45 L787.51,959.81 L787.83,962.17 L788.15,964.52 L788.47,966.87 L788.79,969.21 L789.11,971.54 L789.42,973.86 L789.74,976.18 L790.06,978.49 L790.37,980.80 L790.69,983.10 L791.00,985.39 L791.31,987.68 L791.63,989.96 L791.94,992.23 L792.25,994.50 L792.55,996.76 L792.86,999.02 L793.17,1001.26 L793.47,1003.51 L793.78,1005.74 L794.08,1007.98 L794.38,1010.20 L794.68,1012.42 L794.98,1014.63 L795.28,1016.84 L795.58,1019.04 L795.87,1021.24 L796.16,1023.43 L796.46,1025.61 L796.75,1027.79 L797.04,1029.96 L797.33,1032.13 L797.61,1034.29 L797.90,1036.44 L798.18,1038.59 L798.47,1040.74 L798.75,1042.88 L799.03,1045.01 L799.31,1047.14 L799.58,1049.26 L799.86,1051.38 L800.13,1053.49 L800.40,1055.59 L800.67,1057.70 L800.94,1059.79 L801.21,1061.88 L801.48,1063.97 L801.74,1066.05 L802.00,1068.12 L802.26,1070.19 L802.52,1072.25 L802.78,1074.31 L803.04,1076.37 L803.29,1078.42 L803.54,1080.46 L803.79,1082.50 L804.04,1084.53 L804.29,1086.56 L804.53,1088.58 L804.77,1090.60 L805.02,1092.62 L805.26,1094.63 L805.49,1096.63 L805.73,1098.63 L805.96,1100.62 L806.20,1102.61 L806.43,1104.60 L806.65,1106.58 L806.88,1108.55 L807.11,1110.53 L807.33,1112.49 L807.55,1114.45 L807.77,1116.41 L807.98,1118.36 L808.20,1120.31 L808.42,1122.25 L808.63,1124.19 L808.85,1126.13 L809.06,1128.06 L809.28,1129.98 L809.50,1131.90 L809.71,1133.82 L809.93,1135.73 L810.14,1137.64 L810.35,1139.54 L810.57,1141.44 L810.78,1143.33 L810.99,1145.22 L811.20,1147.11 L811.42,1148.99 L811.63,1150.87 L811.84,1152.74 L812.05,1154.61 L812.25,1156.47 L812.46,1158.33 L812.67,1160.19 L812.87,1162.04 L813.08,1163.89 L813.28,1165.73 L813.48,1167.57 L813.68,1169.41 L813.88,1171.24 L814.08,1173.06 L814.28,1174.89 L814.48,1176.71 L814.67,1178.52 L814.87,1180.33 L815.06,1182.14 L815.25,1183.94 L815.44,1185.74 L815.63,1187.54 L815.81,1189.33 L816.00,1191.12 L816.18,1192.90 L816.36,1194.68 L816.54,1196.46 L816.72,1198.23 L816.90,1200.00 L817.07,1201.77 L817.25,1203.53 L817.42,1205.28 L817.59,1207.04 L817.76,1208.79 L817.92,1210.54 L818.09,1212.28 L818.25,1214.02 L818.41,1215.75 L818.57,1217.48 L818.72,1219.21 L818.88,1220.94 L819.03,1222.66 L819.18,1224.38 L819.33,1226.09 L819.47,1227.80 L819.61,1229.51 L819.76,1231.21 L819.90,1232.91 L820.03,1234.61 L820.17,1236.30 L820.30,1237.99 L820.43,1239.67 L820.56,1241.36 L820.68,1243.04 L820.80,1244.71 L820.93,1246.38 L821.04,1248.05 L821.16,1249.72 L821.27,1251.38 L821.38,1253.04 L821.49,1254.70 L821.60,1256.35 L821.71,1258.00 L821.81,1259.64 L821.92,1261.29 L822.03,1262.92 L822.13,1264.56 L822.24,1266.19 L822.34,1267.82 L822.44,1269.45 L822.54,1271.07 L822.65,1272.69 L822.75,1274.31 L822.85,1275.92 L822.95,1277.53 L823.05,1279.14 L823.15,1280.75 L823.24,1282.35 L823.34,1283.95 L823.44,1285.54 L823.53,1287.13 L823.63,1288.72 L823.73,1290.31 L823.82,1291.89 L823.91,1293.47 L824.01,1295.05 L824.10,1296.62" stroke="#96dc00" stroke-width="1"/>
<path d="M648.28,90.23 L651.24,96.95 L654.17,103.61 L657.06,110.22 L659.89,116.78 L662.65,123.29 L665.36,129.75 L668.02,136.16 L670.62,142.52 L673.18,148.83 L675.69,155.09 L678.16,161.31 L680.59,167.48 L682.98,173.60 L685.34,179.68 L687.66,185.71 L689.96,191.71 L692.23,197.65 L694.47,203.56 L696.68,209.42 L698.88,215.24 L701.05,221.03 L703.21,226.77 L705.35,232.47 L707.47,238.13 L709.58,243.76 L711.68,249.35 L713.77,254.89 L715.85,260.41 L717.89,265.88 L719.91,271.32 L721.90,276.73 L723.87,282.10 L725.80,287.43 L727.71,292.73 L729.60,298.00 L731.45,303.23 L733.28,308.43 L735.09,313.60 L736.87,318.74 L738.62,323.84 L740.35,328.92 L742.05,333.96 L743.73,338.97 L745.39,343.95 L747.02,348.91 L748.63,353.83 L750.22,358.72 L751.79,363.59 L753.33,368.42 L754.85,373.23 L756.35,378.01 L757.83,382.77 L759.28,387.49 L760.72,392.19 L762.13,396.86 L763.53,401.51 L764.91,406.13 L766.26,410.73 L767.60,415.30 L768.92,419.84 L770.22,424.36 L771.50,428.85 L772.76,433.33 L774.00,437.77 L775.23,442.20 L776.44,446.60 L777.63,450.97 L778.81,455.33 L779.97,459.66 L781.11,463.96 L782.24,468.25 L783.35,472.51 L784.45,476.76 L785.53,480.98 L786.59,485.18 L787.64,489.35 L788.68,493.51 L789.70,497.65 L790.71,501.76 L791.71,505.86 L792.69,509.93 L793.66,513.99 L794.62,518.02 L795.56,522.04 L796.50,526.03 L797.42,530.01 L798.33,533.97 L799.22,537.91 L800.11,541.83 L800.98,545.73 L801.84,549.62 L802.70,553.48 L803.54,557.33 L804.37,561.16 L805.18,564.97 L805.99,568.77 L806.79,572.54 L807.58,576.30 L808.35,580.05 L809.12,583.77 L809.88,587.48 L810.62,591.18 L811.36,594.85 L812.09,598.52 L812.80,602.16 L813.51,605.79 L814.21,609.40 L814.90,613.00 L815.58,616.58 L816.25,620.15 L816.91,623.70 L817.56,627.23 L818.21,630.75 L818.84,634.26 L819.47,637.75 L820.09,641.23 L820.70,644.69 L821.30,648.14 L821.90,651.57 L822.48,654.99 L823.06,658.39 L823.63,661.78 L824.19,665.16 L824.75,668.52 L825.29,671.87 L825.83,675.21 L826.36,678.53 L826.89,681.84 L827.40,685.14 L827.91,688.42 L828.40,691.69 L828.89,694.95 L829.37,698.20 L829.83,701.43 L830.30,704.65 L830.75,707.85 L831.19,711.05 L831.63,714.23 L832.06,717.40 L832.48,720.56 L832.90,723.71 L833.30,726.84 L833.70,729.96 L834.10,733.07 L834.48,736.17 L834.86,739.26 L835.24,742.34 L835.60,745.40 L835.97,748.46 L836.32,751.50 L836.67,754.53 L837.01,757.55 L837.35,760.56 L837.69,763.56 L838.01,766.54 L838.34,769.52 L838.66,772.49 L838.97,775.44 L839.28,778.39 L839.58,781.32 L839.88,784.24 L840.17,787.16 L840.46,790.06 L840.75,792.96 L841.03,795.84 L841.31,798.71 L841.58,801.58 L841.85,804.43 L842.12,807.27 L842.38,810.11 L842.64,812.93 L842.90,815.75 L843.15,818.55 L843.40,821.35 L843.65,824.13 L843.89,826.91 L844.13,829.68 L844.37,832.44 L844.60,835.19 L844.84,837.93 L845.07,840.66 L845.29,843.38 L845.52,846.09 L845.74,848.80 L845.96,851.49 L846.18,854.18 L846.39,856.86 L846.61,859.53 L846.82,862.19 L847.03,864.84 L847.23,867.48 L847.44,870.12 L847.64,872.75 L847.85,875.37 L848.05,877.98 L848.25,880.58 L848.44,883.17 L848.64,885.76 L848.84,888.34 L849.03,890.91 L849.22,893.47 L849.41,896.03 L849.60,898.57 L849.79,901.11 L849.98,903.64 L850.17,906.16 L850.35,908.68 L850.54,911.19 L850.72,913.69 L850.90,916.18 L851.09,918.67 L851.27,921.14 L851.45,923.62 L851.63,926.08 L851.81,928.53 L851.99,930.98 L852.17,933.42 L852.35,935.86 L852.52,938.29 L852.70,940.71 L852.88,943.12 L853.06,945.52 L853.23,947.92 L853.41,950.32 L853.58,952.70 L853.76,955.08 L853.94,957.45 L854.11,959.81 L854.29,962.17 L854.46,964.52 L854.63,966.87 L854.80,969.21 L854.97,971.54 L855.14,973.86 L855.30,976.18 L855.46,978.49 L855.63,980.80 L855.79,983.10 L855.95,985.39 L856.11,987.68 L856.26,989.96 L856.42,992.23 L856.57,994.50 L856.73,996.76 L856.88,999.02 L857.03,1001.26 L857.18,1003.51 L857.33,1005.74 L857.47,1007.98 L857.62,1010.20 L857.76,1012.42 L857.91,1014.63 L858.05,1016.84 L858.19,1019.04 L858.33,1021.24 L858.47,1023.43 L858.61,1025.61 L858.74,1027.79 L858.88,1029.96 L859.01,1032.13 L859.14,1034.29 L859.28,1036.44 L859.41,1038.59 L859.54,1040.74 L859.67,1042.88 L859.79,1045.01 L859.92,1047.14 L860.05,1049.26 L860.17,1051.38 L860.29,1053.49 L860.42,1055.59 L860.54,1057.70 L860.66,1059.79 L860.78,1061.88 L860.90,1063.97 L861.02,1066.05 L861.13,1068.12 L861.25,1070.19 L861.37,1072.25 L861.48,1074.31 L861.59,1076.37 L861.71,1078.42 L861.82,1080.46 L861.93,1082.50 L862.04,1084.53 L862.15,1086.56 L862.26,1088.58 L862.37,1090.60 L862.47,1092.62 L862.58,1094.63 L862.68,1096.63 L862.79,1098.63 L862.89,1100.62 L863.00,1102.61 L863.10,1104.60 L863.20,1106.58 L863.30,1108.55 L863.40,1110.53 L863.50,1112.49 L863.60,1114.45 L863.70,1116.41 L863.79,1118.36 L863.89,1120.31 L863.99,1122.25 L864.10,1124.19 L864.21,1126.13 L864.33,1128.06 L864.44,1129.98 L864.57,1131.90 L864.69,1133.82 L864.82,1135.73 L864.95,1137.64 L865.08,1139.54 L865.22,1141.44 L865.36,1143.33 L865.50,1145.22 L865.64,1147.11 L865.78,1148.99 L865.93,1150.87 L866.08,1152.74 L866.23,1154.61 L866.38,1156.47 L866.53,1158.33 L866.68,1160.19 L866.83,1162.04 L866.99,1163.89 L867.14,1165.73 L867.30,1167.57 L867.46,1169.41 L867.61,1171.24 L867.77,1173.06 L867.93,1174.89 L868.08,1176.71 L868.24,1178.52 L868.39,1180.33 L868.55,1182.14 L868.70,1183.94 L868.86,1185.74 L869.01,1187.54 L869.16,1189.33 L869.31,1191.12 L869.46,1192.90 L869.61,1194.68 L869.76,1196.46 L869.90,1198.23 L870.05,1200.00 L870.19,1201.77 L870.33,1203.53 L870.47,1205.28 L870.60,1207.04 L870.74,1208.79 L870.87,1210.54 L871.00,1212.28 L871.13,1214.02 L871.25,1215.75 L871.38,1217.48 L871.49,1219.21 L871.61,1220.94 L871.73,1222.66 L871.84,1224.38 L871.94,1226.09 L872.05,1227.80 L872.15,1229.51 L872.25,1231.21 L872.34,1232.91 L872.44,1234.61 L872.52,1236.30 L872.61,1237.99 L872.69,1239.67 L872.77,1241.36 L872.84,1243.04 L872.91,1244.71 L872.97,1246.38 L873.03,1248.05 L873.09,1249.72 L873.14,1251.38 L873.19,1253.04 L873.24,1254.70 L873.28,1256.35 L873.33,1258.00 L873.37,1259.64 L873.42,1261.29 L873.46,1262.92 L873.50,1264.56 L873.55,1266.19 L873.59,1267.82 L873.63,1269.45 L873.67,1271.07 L873.72,1272.69 L873.76,1274.31 L873.80,1275.92 L873.84,1277.53 L873.88,1279.14 L873.92,1280.75 L873.96,1282.35 L874.00,1283.95 L874.04,1285.54 L874.07,1287.13 L874.11,1288.72 L874.15,1290.31 L874.19,1291.89 L874.22,1293.47 L874.26,1295.05 L874.30,1296.62" stroke="#96dc00" stroke-width="1"/>
<path d="M788.83,90.23 L791.12,96.95 L793.37,103.61 L795.58,110.22 L797.74,116.78 L799.87,123.29 L801.96,129.75 L804.02,136.16 L806.04,142.52 L808.02,148.83 L809.97,155.09 L811.88,161.31 L813.76,167.48 L815.60,173.60 L817.41,179.68 L819.19,185.71 L820.94,191.71 L822.65,197.65 L824.33,203.56 L825.98,209.42 L827.60,215.24 L829.20,221.03 L830.76,226.77 L832.29,232.47 L833.80,238.13 L835.27,243.76 L836.72,249.35 L838.14,254.89 L839.54,260.41 L840.92,265.88 L842.28,271.32 L843.62,276.73 L844.95,282.10 L846.25,287.43 L847.54,292.73 L848.81,298.00 L850.06,303.23 L851.29,308.43 L852.50,313.60 L853.70,318.74 L854.87,323.84 L856.03,328.92 L857.17,333.96 L858.30,338.97 L859.40,343.95 L860.49,348.91 L861.56,353.83 L862.61,358.72 L863.65,363.59 L864.66,368.42 L865.66,373.23 L866.65,378.01 L867.61,382.77 L868.56,387.49 L869.49,392.19 L870.41,396.86 L871.31,401.51 L872.19,406.13 L873.05,410.73 L873.90,415.30 L874.74,419.84 L875.55,424.36 L876.35,428.85 L877.14,433.33 L877.90,437.77 L878.66,442.20 L879.39,446.60 L880.11,450.97 L880.82,455.33 L881.51,459.66 L882.18,463.96 L882.84,468.25 L883.49,472.51 L884.11,476.76 L884.73,480.98 L885.33,485.18 L885.91,489.35 L886.48,493.51 L887.04,497.65 L887.58,501.76 L888.12,505.86 L888.65,509.93 L889.17,513.99 L889.68,518.02 L890.18,522.04 L890.68,526.03 L891.17,530.01 L891.64,533.97 L892.12,537.91 L892.58,541.83 L893.03,545.73 L893.48,549.62 L893.92,553.48 L894.36,557.33 L894.78,561.16 L895.20,564.97 L895.62,568.77 L896.02,572.54 L896.42,576.30 L896.82,580.05 L897.20,583.77 L897.58,587.48 L897.96,591.18 L898.33,594.85 L898.69,598.52 L899.05,602.16 L899.40,605.79 L899.75,609.40 L900.09,613.00 L900.42,616.58 L900.75,620.15 L901.08,623.70 L901.40,627.23 L901.71,630.75 L902.02,634.26 L902.33,637.75 L902.63,641.23 L902.92,644.69 L903.21,648.14 L903.50,651.57 L903.78,654.99 L904.06,658.39 L904.33,661.78 L904.60,665.16 L904.87,668.52 L905.13,671.87 L905.38,675.21 L905.63,678.53 L905.88,681.84 L906.13,685.14 L906.36,688.42 L906.60,691.69 L906.82,694.95 L907.04,698.20 L907.26,701.43 L907.47,704.65 L907.68,707.85 L907.88,711.05 L908.08,714.23 L908.28,717.40 L908.47,720.56 L908.65,723.71 L908.83,726.84 L909.01,729.96 L909.18,733.07 L909.35,736.17 L909.52,739.26 L909.68,742.34 L909.84,745.40 L910.00,748.46 L910.15,751.50 L910.30,754.53 L910.44,757.55 L910.58,760.56 L910.72,763.56 L910.86,766.54 L910.99,769.52 L911.12,772.49 L911.25,775.44 L911.38,778.39 L911.50,781.32 L911.62,784.24 L911.74,787.16 L911.85,790.06 L911.96,792.96 L912.07,795.84 L912.18,798.71 L912.29,801.58 L912.39,804.43 L912.49,807.27 L912.59,810.11 L912.69,812.93 L912.79,815.75 L912.88,818.55 L912.97,821.35 L913.06,824.13 L913.15,826.91 L913.24,829.68 L913.32,832.44 L913.41,835.19 L913.49,837.93 L913.57,840.66 L913.65,843.38 L913.73,846.09 L913.81,848.80 L913.88,851.49 L913.96,854.18 L914.03,856.86 L914.10,859.53 L914.17,862.19 L914.24,864.84 L914.31,867.48 L914.38,870.12 L914.45,872.75 L914.51,875.37 L914.58,877.98 L914.64,880.58 L914.71,883.17 L914.77,885.76 L914.83,888.34 L914.89,890.91 L914.95,893.47 L915.01,896.03 L915.07,898.57 L915.13,901.11 L915.19,903.64 L915.25,906.16 L915.30,908.68 L915.36,911.19 L915.42,913.69 L915.47,916.18 L915.53,918.67 L915.58,921.14 L915.64,923.62 L915.69,926.08 L915.75,928.53 L915.80,930.98 L915.85,933.42 L915.91,935.86 L915.96,938.29 L916.01,940.71 L916.07,943.12 L916.12,945.52 L916.17,947.92 L916.22,950.32 L916.28,952.70 L916.33,955.08 L916.38,957.45 L916.43,959.81 L916.49,962.17 L916.54,964.52 L916.60,966.87 L916.65,969.21 L916.71,971.54 L916.76,973.86 L916.82,976.18 L916.88,978.49 L916.93,980.80 L916.99,983.10 L917.05,985.39 L917.11,987.68 L917.17,989.96 L917.23,992.23 L917.29,994.50 L917.35,996.76 L917.41,999.02 L917.47,1001.26 L917.53,1003.51 L917.59,1005.74 L917.65,1007.98 L917.71,1010.20 L917.77,1012.42 L917.83,1014.63 L917.89,1016.84 L917.96,1019.04 L918.02,1021.24 L918.08,1023.43 L918.14,1025.61 L918.20,1027.79 L918.26,1029.96 L918.33,1032.13 L918.39,1034.29 L918.45,1036.44 L918.51,1038.59 L918.57,1040.74 L918.63,1042.88 L918.69,1045.01 L918.75,1047.14 L918.82,1049.26 L918.88,1051.38 L918.94,1053.49 L919.00,1055.59 L919.06,1057.70 L919.12,1059.79 L919.18,1061.88 L919.24,1063.97 L919.30,1066.05 L919.35,1068.12 L919.41,1070.19 L919.47,1072.25 L919.53,1074.31 L919.59,1076.37 L919.64,1078.42 L919.70,1080.46 L919.76,1082.50 L919.81,1084.53 L919.87,1086.56 L919.92,1088.58 L919.98,1090.60 L920.03,1092.62 L920.09,1094.63 L920.14,1096.63 L920.19,1098.63 L920.25,1100.62 L920.30,1102.61 L920.35,1104.60 L920.40,1106.58 L920.45,1108.55 L920.50,1110.53 L920.55,1112.49 L920.60,1114.45 L920.65,1116.41 L920.70,1118.36 L920.75,1120.31 L920.80,1122.25 L920.85,1124.19 L920.91,1126.13 L920.97,1128.06 L921.03,1129.98 L921.09,1131.90 L921.16,1133.82 L921.22,1135.73 L921.29,1137.64 L921.36,1139.54 L921.43,1141.44 L921.51,1143.33 L921.58,1145.22 L921.66,1147.11 L921.74,1148.99 L921.81,1150.87 L921.89,1152.74 L921.97,1154.61 L922.05,1156.47 L922.13,1158.33 L922.21,1160.19 L922.30,1162.04 L922.38,1163.89 L922.46,1165.73 L922.54,1167.57 L922.62,1169.41 L922.71,1171.24 L922.79,1173.06 L922.87,1174.89 L922.95,1176.71 L923.03,1178.52 L923.11,1180.33 L923.19,1182.14 L923.27,1183.94 L923.35,1185.74 L923.42,1187.54 L923.50,1189.33 L923.58,1191.12 L923.65,1192.90 L923.72,1194.68 L923.79,1196.46 L923.86,1198.23 L923.93,1200.00 L924.00,1201.77 L924.07,1203.53 L924.13,1205.28 L924.19,1207.04 L924.25,1208.79 L924.31,1210.54 L924.37,1212.28 L924.42,1214.02 L924.48,1215.75 L924.53,1217.48 L924.58,1219.21 L924.62,1220.94 L924.67,1222.66 L924.71,1224.38 L924.75,1226.09 L924.78,1227.80 L924.82,1229.51 L924.85,1231.21 L924.88,1232.91 L924.91,1234.61 L924.93,1236.30 L924.95,1237.99 L924.97,1239.67 L924.98,1241.36 L925.00,1243.04 L925.00,1244.71 L925.01,1246.38 L925.01,1248.05 L925.01,1249.72 L925.01,1251.38 L925.00,1253.04 L924.99,1254.70 L924.98,1256.35 L924.97,1258.00 L924.96,1259.64 L924.95,1261.29 L924.94,1262.92 L924.93,1264.56 L924.92,1266.19 L924.91,1267.82 L924.90,1269.45 L924.89,1271.07 L924.88,1272.69 L924.87,1274.31 L924.86,1275.92 L924.85,1277.53 L924.84,1279.14 L924.83,1280.75 L924.81,1282.35 L924.80,1283.95 L924.79,1285.54 L924.78,1287.13 L924.77,1288.72 L924.76,1290.31 L924.74,1291.89 L924.73,1293.47 L924.72,1295.05 L924.71,1296.62" stroke="#96dc00" stroke-width="1"/>
<path d="M929.19,90.23 L930.44,96.95 L931.66,103.61 L932.85,110.22 L934.04,116.78 L935.22,123.29 L936.39,129.75 L937.55,136.16 L938.70,142.52 L939.84,148.83 L940.96,155.09 L942.07,161.31 L943.16,167.48 L944.23,173.60 L945.27,179.68 L946.30,185.71 L947.31,191.71 L948.29,197.65 L949.25,203.56 L950.18,209.42 L951.09,215.24 L951.97,221.03 L952.82,226.77 L953.64,232.47 L954.43,238.13 L955.20,243.76 L955.93,249.35 L956.63,254.89 L957.30,260.41 L957.96,265.88 L958.60,271.32 L959.22,276.73 L959.83,282.10 L960.43,287.43 L961.01,292.73 L961.58,298.00 L962.13,303.23 L962.67,308.43 L963.20,313.60 L963.71,318.74 L964.21,323.84 L964.70,328.92 L965.18,333.96 L965.65,338.97 L966.10,343.95 L966.54,348.91 L966.98,353.83 L967.40,358.72 L967.81,363.59 L968.21,368.42 L968.60,373.23 L968.98,378.01 L969.35,382.77 L969.71,387.49 L970.06,392.19 L970.40,396.86 L970.74,401.51 L971.06,406.13 L971.38,410.73 L971.69,415.30 L971.99,419.84 L972.28,424.36 L972.56,428.85 L972.84,433.33 L973.11,437.77 L973.37,442.20 L973.62,446.60 L973.87,450.97 L974.11,455.33 L974.34,459.66 L974.56,463.96 L974.78,468.25 L975.00,472.51 L975.20,476.76 L975.40,480.98 L975.59,485.18 L975.78,489.35 L975.96,493.51 L976.14,497.65 L976.30,501.76 L976.46,505.86 L976.61,509.93 L976.76,513.99 L976.90,518.02 L977.03,522.04 L977.16,526.03 L977.28,530.01 L977.39,533.97 L977.50,537.91 L977.60,541.83 L977.70,545.73 L977.79,549.62 L977.88,553.48 L977.97,557.33 L978.05,561.16 L978.12,564.97 L978.20,568.77 L978.27,572.54 L978.33,576.30 L978.39,580.05 L978.45,583.77 L978.51,587.48 L978.56,591.18 L978.61,594.85 L978.66,598.52 L978.71,602.16 L978.75,605.79 L978.79,609.40 L978.83,613.00 L978.87,616.58 L978.91,620.15 L978.94,623.70 L978.98,627.23 L979.01,630.75 L979.04,634.26 L979.07,637.75 L979.10,641.23 L979.13,644.69 L979.16,648.14 L979.18,651.57 L979.21,654.99 L979.24,658.39 L979.26,661.78 L979.29,665.16 L979.31,668.52 L979.34,671.87 L979.37,675.21 L979.39,678.53 L979.42,681.84 L979.44,685.14 L979.47,688.42 L979.49,691.69 L979.51,694.95 L979.53,698.20 L979.54,701.43 L979.56,704.65 L979.57,707.85 L979.58,711.05 L979.60,714.23 L979.60,717.40 L979.61,720.56 L979.62,723.71 L979.63,726.84 L979.63,729.96 L979.63,733.07 L979.64,736.17 L979.64,739.26 L979.64,742.34 L979.63,745.40 L979.63,748.46 L979.63,751.50 L979.62,754.53 L979.62,757.55 L979.61,760.56 L979.60,763.56 L979.59,766.54 L979.58,769.52 L979.57,772.49 L979.56,775.44 L979.55,778.39 L979.54,781.32 L979.52,784.24 L979.51,787.16 L979.49,790.06 L979.47,792.96 L979.45,795.84 L979.44,798.71 L979.42,801.58 L979.40,804.43 L979.37,807.27 L979.35,810.11 L979.33,812.93 L979.31,815.75 L979.28,818.55 L979.26,821.35 L979.23,824.13 L979.21,826.91 L979.18,829.68 L979.15,832.44 L979.12,835.19 L979.09,837.93 L979.07,840.66 L979.04,843.38 L979.01,846.09 L978.97,848.80 L978.94,851.49 L978.91,854.18 L978.88,856.86 L978.84,859.53 L978.81,862.19 L978.78,864.84 L978.74,867.48 L978.71,870.12 L978.67,872.75 L978.63,875.37 L978.60,877.98 L978.56,880.58 L978.52,883.17 L978.48,885.76 L978.44,888.34 L978.41,890.91 L978.37,893.47 L978.33,896.03 L978.29,898.57 L978.25,901.11 L978.20,903.64 L978.16,906.16 L978.12,908.68 L978.08,911.19 L978.04,913.69 L977.99,916.18 L977.95,918.67 L977.91,921.14 L977.86,923.62 L977.82,926.08 L977.77,928.53 L977.73,930.98 L977.68,933.42 L977.64,935.86 L977.59,938.29 L977.55,940.71 L977.50,943.12 L977.45,945.52 L977.41,947.92 L977.36,950.32 L977.31,952.70 L977.27,955.08 L977.22,957.45 L977.17,959.81 L977.12,962.17 L977.08,964.52 L977.04,966.87 L977.00,969.21 L976.96,971.54 L976.93,973.86 L976.89,976.18 L976.86,978.49 L976.83,980.80 L976.81,983.10 L976.78,985.39 L976.75,987.68 L976.73,989.96 L976.71,992.23 L976.69,994.50 L976.67,996.76 L976.65,999.02 L976.64,1001.26 L976.62,1003.51 L976.61,1005.74 L976.59,1007.98 L976.58,1010.20 L976.57,1012.42 L976.56,1014.63 L976.55,1016.84 L976.55,1019.04 L976.54,1021.24 L976.53,1023.43 L976.53,1025.61 L976.52,1027.79 L976.52,1029.96 L976.52,1032.13 L976.51,1034.29 L976.51,1036.44 L976.51,1038.59 L976.51,1040.74 L976.51,1042.88 L976.51,1045.01 L976.51,1047.14 L976.51,1049.26 L976.51,1051.38 L976.51,1053.49 L976.51,1055.59 L976.51,1057.70 L976.51,1059.79 L976.52,1061.88 L976.52,1063.97 L976.52,1066.05 L976.52,1068.12 L976.52,1070.19 L976.53,1072.25 L976.53,1074.31 L976.53,1076.37 L976.53,1078.42 L976.53,1080.46 L976.53,1082.50 L976.54,1084.53 L976.54,1086.56 L976.54,1088.58 L976.54,1090.60 L976.54,1092.62 L976.54,1094.63 L976.54,1096.63 L976.54,1098.63 L976.53,1100.62 L976.53,1102.61 L976.53,1104.60 L976.53,1106.58 L976.52,1108.55 L976.52,1110.53 L976.52,1112.49 L976.51,1114.45 L976.51,1116.41 L976.50,1118.36 L976.50,1120.31 L976.49,1122.25 L976.49,1124.19 L976.49,1126.13 L976.50,1128.06 L976.50,1129.98 L976.51,1131.90 L976.52,1133.82 L976.53,1135.73 L976.55,1137.64 L976.56,1139.54 L976.58,1141.44 L976.60,1143.33 L976.62,1145.22 L976.64,1147.11 L976.66,1148.99 L976.68,1150.87 L976.70,1152.74 L976.73,1154.61 L976.75,1156.47 L976.78,1158.33 L976.80,1160.19 L976.83,1162.04 L976.85,1163.89 L976.88,1165.73 L976.91,1167.57 L976.93,1169.41 L976.96,1171.24 L976.99,1173.06 L977.01,1174.89 L977.04,1176.71 L977.06,1178.52 L977.09,1180.33 L977.11,1182.14 L977.14,1183.94 L977.16,1185.74 L977.18,1187.54 L977.20,1189.33 L977.22,1191.12 L977.24,1192.90 L977.26,1194.68 L977.28,1196.46 L977.30,1198.23 L977.31,1200.00 L977.32,1201.77 L977.34,1203.53 L977.35,1205.28 L977.36,1207.04 L977.36,1208.79 L977.37,1210.54 L977.37,1212.28 L977.38,1214.02 L977.38,1215.75 L977.37,1217.48 L977.37,1219.21 L977.37,1220.94 L977.36,1222.66 L977.35,1224.38 L977.34,1226.09 L977.32,1227.80 L977.31,1229.51 L977.29,1231.21 L977.27,1232.91 L977.24,1234.61 L977.22,1236.30 L977.19,1237.99 L977.16,1239.67 L977.12,1241.36 L977.09,1243.04 L977.05,1244.71 L977.01,1246.38 L976.96,1248.05 L976.91,1249.72 L976.86,1251.38 L976.81,1253.04 L976.75,1254.70 L976.70,1256.35 L976.64,1258.00 L976.59,1259.64 L976.53,1261.29 L976.47,1262.92 L976.42,1264.56 L976.36,1266.19 L976.31,1267.82 L976.25,1269.45 L976.20,1271.07 L976.14,1272.69 L976.09,1274.31 L976.03,1275.92 L975.98,1277.53 L975.92,1279.14 L975.87,1280.75 L975.81,1282.35 L975.76,1283.95 L975.70,1285.54 L975.65,1287.13 L975.59,1288.72 L975.54,1290.31 L975.48,1291.89 L975.43,1293.47 L975.37,1295.05 L975.32,1296.62" stroke="#96dc00" stroke-width="1"/>
<path d="M582.82,494.55 L575.97,515.00 L569.31,534.96 L562.80,554.44 L556.46,573.49 L550.26,592.10 L544.21,610.30 L538.29,628.11 L532.51,645.55 L526.85,662.63 L521.31,679.36 L515.88,695.76 L510.57,711.85 L505.36,727.62 L500.26,743.10 L495.26,758.30 L490.35,773.23 L485.53,787.89 L480.80,802.29 L476.16,816.45 L471.59,830.37 L467.11,844.06 L462.71,857.53 L458.37,870.78 L454.12,883.82 L449.93,896.66 L445.81,909.31 L441.75,921.76 L437.76,934.03 L433.83,946.12 L429.95,958.04 L426.14,969.79 L422.38,981.37 L418.68,992.80 L415.03,1004.07 L411.44,1015.18 L407.89,1026.15 L404.39,1036.98 L400.94,1047.67 L397.54,1058.22 L394.18,1068.64 L390.87,1078.93 L387.60,1089.09 L384.37,1099.13 L381.18,1109.05 L378.03,1118.85 L374.92,1128.54 L371.85,1138.11 L368.82,1147.58 L365.82,1156.94 L362.86,1166.19 L359.94,1175.34 L357.04,1184.39 L354.18,1193.35 L351.36,1202.21 L348.56,1210.97 L345.80,1219.64 L343.06,1228.23 L340.36,1236.72 L337.68,1245.13 L335.04,1253.45" stroke="#96dc00" stroke-width="1" stroke-dasharray="5,7.5"/>
<path d="M684.43,494.55 L677.84,515.00 L671.43,534.96 L665.17,554.44 L659.06,573.49 L653.11,592.10 L647.29,610.30 L641.60,628.11 L636.04,645.55 L630.60,662.63 L625.28,679.36 L620.07,695.76 L614.96,711.85 L609.96,727.62 L605.06,743.10 L600.26,758.30 L595.55,773.23 L590.92,787.89 L586.38,802.29 L581.93,816.45 L577.55,830.37 L573.25,844.06 L569.03,857.53 L564.87,870.78 L560.79,883.82 L556.77,896.66 L552.82,909.31 L548.94,921.76 L545.11,934.03 L541.34,946.12 L537.64,958.04 L533.98,969.79 L530.39,981.37 L526.84,992.80 L523.35,1004.07 L519.90,1015.18 L516.51,1026.15 L513.16,1036.98 L509.86,1047.67 L506.61,1058.22 L503.39,1068.64 L500.22,1078.93 L497.09,1089.09 L494.01,1099.13 L490.96,1109.05 L487.95,1118.85 L484.98,1128.54 L482.04,1138.11 L479.14,1147.58 L476.28,1156.94 L473.45,1166.19 L470.65,1175.34 L467.89,1184.39 L465.16,1193.35 L462.46,1202.21 L459.79,1210.97 L457.15,1219.64 L454.54,1228.23 L451.96,1236.72 L449.40,1245.13 L446.88,1253.45" stroke="#96dc00" stroke-width="1" stroke-dasharray="5,7.5"/>
<path d="M747.22,494.55 L740.80,515.00 L734.54,534.96 L728.44,554.44 L722.49,573.49 L716.68,592.10 L711.01,610.30 L705.47,628.11 L700.05,645.55 L694.75,662.63 L689.57,679.36 L684.50,695.76 L679.53,711.85 L674.66,727.62 L669.89,743.10 L665.21,758.30 L660.62,773.23 L656.12,787.89 L651.70,802.29 L647.37,816.45 L643.11,830.37 L638.93,844.06 L634.82,857.53 L630.78,870.78 L626.81,883.82 L622.90,896.66 L619.06,909.31 L615.28,921.76 L611.56,934.03 L607.90,946.12 L604.29,958.04 L600.74,969.79 L597.25,981.37 L593.80,992.80 L590.41,1004.07 L587.06,1015.18 L583.77,1026.15 L580.51,1036.98 L577.31,1047.67 L574.14,1058.22 L571.02,1068.64 L567.95,1078.93 L564.91,1089.09 L561.91,1099.13 L558.95,1109.05 L556.03,1118.85 L553.15,1128.54 L550.30,1138.11 L547.48,1147.58 L544.70,1156.94 L541.96,1166.19 L539.25,1175.34 L536.56,1184.39 L533.91,1193.35 L531.29,1202.21 L528.71,1210.97 L526.14,1219.64 L523.61,1228.23 L521.11,1236.72 L518.63,1245.13 L516.18,1253.45" stroke="#96dc00" stroke-width="1" stroke-dasharray="5,7.5"/>
<path d="M830.08,494.55 L823.88,515.00 L817.84,534.96 L811.95,554.44 L806.21,573.49 L800.60,592.10 L795.13,610.30 L789.78,628.11 L784.56,645.55 L779.45,662.63 L774.45,679.36 L769.56,695.76 L764.77,711.85 L760.08,727.62 L755.49,743.10 L750.98,758.30 L746.56,773.23 L742.23,787.89 L737.98,802.29 L733.80,816.45 L729.71,830.37 L725.68,844.06 L721.73,857.53 L717.84,870.78 L714.02,883.82 L710.26,896.66 L706.57,909.31 L702.94,921.76 L699.36,934.03 L695.84,946.12 L692.38,958.04 L688.97,969.79 L685.61,981.37 L682.30,992.80 L679.04,1004.07 L675.83,1015.18 L672.66,1026.15 L669.54,1036.98 L666.46,1047.67 L663.42,1058.22 L660.43,1068.64 L657.48,1078.93 L654.56,1089.09 L651.69,1099.13 L648.85,1109.05 L646.05,1118.85 L643.28,1128.54 L640.55,1138.11 L637.85,1147.58 L635.19,1156.94 L632.55,1166.19 L629.95,1175.34 L627.38,1184.39 L624.84,1193.35 L622.34,1202.21 L619.85,1210.97 L617.40,1219.64 L614.98,1228.23 L612.58,1236.72 L610.21,1245.13 L607.86,1253.45" stroke="#96dc00" stroke-width="1" stroke-dasharray="5,7.5"/>
<path d="M910.15,494.55 L904.17,515.00 L898.34,534.96 L892.67,554.44 L887.13,573.49 L881.73,592.10 L876.45,610.30 L871.30,628.11 L866.27,645.55 L861.35,662.63 L856.54,679.36 L851.83,695.76 L847.22,711.85 L842.71,727.62 L838.28,743.10 L833.95,758.30 L829.70,773.23 L825.53,787.89 L821.44,802.29 L817.43,816.45 L813.49,830.37 L809.62,844.06 L805.83,857.53 L802.09,870.78 L798.42,883.82 L794.82,896.66 L791.27,909.31 L787.78,921.76 L784.35,934.03 L780.97,946.12 L777.65,958.04 L774.37,969.79 L771.15,981.37 L767.98,992.80 L764.85,1004.07 L761.77,1015.18 L758.73,1026.15 L755.74,1036.98 L752.79,1047.67 L749.88,1058.22 L747.01,1068.64 L744.18,1078.93 L741.39,1089.09 L738.64,1099.13 L735.92,1109.05 L733.23,1118.85 L730.59,1128.54 L727.97,1138.11 L725.39,1147.58 L722.84,1156.94 L720.32,1166.19 L717.83,1175.34 L715.37,1184.39 L712.95,1193.35 L710.55,1202.21 L708.17,1210.97 L705.83,1219.64 L703.51,1228.23 L701.22,1236.72 L698.95,1245.13 L696.71,1253.45" stroke="#96dc00" stroke-width="1" stroke-dasharray="5,7.5"/>
<path d="M982.25,494.55 L976.47,515.00 L970.84,534.96 L965.36,554.44 L960.01,573.49 L954.80,592.10 L949.71,610.30 L944.74,628.11 L939.88,645.55 L935.14,662.63 L930.50,679.36 L925.95,695.76 L921.51,711.85 L917.16,727.62 L912.90,743.10 L908.72,758.30 L904.63,773.23 L900.61,787.89 L896.68,802.29 L892.81,816.45 L889.02,830.37 L885.30,844.06 L881.64,857.53 L878.05,870.78 L874.52,883.82 L871.05,896.66 L867.64,909.31 L864.28,921.76 L860.98,934.03 L857.74,946.12 L854.54,958.04 L851.40,969.79 L848.30,981.37 L845.25,992.80 L842.25,1004.07 L839.29,1015.18 L836.38,1026.15 L833.50,1036.98 L830.67,1047.67 L827.88,1058.22 L825.12,1068.64 L822.41,1078.93 L819.73,1089.09 L817.09,1099.13 L814.48,1109.05 L811.91,1118.85 L809.37,1128.54 L806.86,1138.11 L804.39,1147.58 L801.94,1156.94 L799.53,1166.19 L797.15,1175.34 L794.79,1184.39 L792.46,1193.35 L790.16,1202.21 L787.89,1210.97 L785.65,1219.64 L783.43,1228.23 L781.23,1236.72 L779.07,1245.13 L776.92,1253.45" stroke="#96dc00" stroke-width="1" stroke-dasharray="5,7.5"/>
<path d="M1077.02,494.55 L1071.51,515.00 L1066.15,534.96 L1060.93,554.44 L1055.84,573.49 L1050.88,592.10 L1046.04,610.30 L1041.31,628.11 L1036.70,645.55 L1032.18,662.63 L1027.77,679.36 L1023.46,695.76 L1019.24,711.85 L1015.11,727.62 L1011.06,743.10 L1007.10,758.30 L1003.22,773.23 L999.41,787.89 L995.68,802.29 L992.02,816.45 L988.42,830.37 L984.90,844.06 L981.43,857.53 L978.03,870.78 L974.69,883.82 L971.41,896.66 L968.18,909.31 L965.01,921.76 L961.88,934.03 L958.82,946.12 L955.80,958.04 L952.82,969.79 L949.90,981.37 L947.02,992.80 L944.18,1004.07 L941.39,1015.18 L938.64,1026.15 L935.92,1036.98 L933.25,1047.67 L930.62,1058.22 L928.02,1068.64 L925.46,1078.93 L922.94,1089.09 L920.45,1099.13 L917.99,1109.05 L915.56,1118.85 L913.17,1128.54 L910.81,1138.11 L908.48,1147.58 L906.18,1156.94 L903.91,1166.19 L901.67,1175.34 L899.45,1184.39 L897.26,1193.35 L895.10,1202.21 L892.97,1210.97 L890.86,1219.64 L888.77,1228.23 L886.71,1236.72 L884.67,1245.13 L882.66,1253.45" stroke="#96dc00" stroke-width="1" stroke-dasharray="5,7.5"/>
</g>
<polyline points="97.5,1294.5 97.5,104.5 1009.5,104.5 1009.5,494 1215.5,862 1215.5,1294.5 97.5,1294.5" fill="none" stroke="#000" stroke-width="1"/>
<line x1="145.50" y1="1294.50" x2="145.50" y2="1309.00" stroke="#000" stroke-width="1"/>
<line x1="276.50" y1="1294.50" x2="276.50" y2="1309.00" stroke="#000" stroke-width="1"/>
<line x1="407.50" y1="1294.50" x2="407.50" y2="1309.00" stroke="#000" stroke-width="1"/>
<line x1="538.50" y1="1294.50" x2="538.50" y2="1309.00" stroke="#000" stroke-width="1"/>
<line x1="669.50" y1="1294.50" x2="669.50" y2="1309.00" stroke="#000" stroke-width="1"/>
<line x1="800.50" y1="1294.50" x2="800.50" y2="1309.00" stroke="#000" stroke-width="1"/>
<line x1="931.50" y1="1294.50" x2="931.50" y2="1309.00" stroke="#000" stroke-width="1"/>
<line x1="1061.50" y1="1294.50" x2="1061.50" y2="1309.00" stroke="#000" stroke-width="1"/>
<line x1="98.00" y1="104.50" x2="98.00" y2="1205.00" stroke="#0ab400" stroke-width="2"/>
<g stroke="#000" stroke-linecap="round"><line x1="98.25" y1="328.00" x2="178.50" y2="379.00" stroke-width="2.53"/><line x1="178.50" y1="379.00" x2="156.00" y2="400.00" stroke-width="2.19"/><line x1="156.00" y1="400.00" x2="133.50" y2="421.00" stroke-width="2.19"/><line x1="133.50" y1="421.00" x2="111.75" y2="441.25" stroke-width="2.20"/><line x1="111.75" y1="441.25" x2="99.00" y2="505.00" stroke-width="2.94"/></g>
<g stroke="#ff0000" stroke-linecap="round"><line x1="463.40" y1="104.50" x2="464.00" y2="106.75" stroke-width="2.90"/><line x1="464.00" y1="106.75" x2="473.00" y2="131.50" stroke-width="2.82"/><line x1="473.00" y1="131.50" x2="483.50" y2="163.00" stroke-width="2.85"/><line x1="483.50" y1="163.00" x2="494.00" y2="188.50" stroke-width="2.77"/><line x1="494.00" y1="188.50" x2="497.00" y2="196.00" stroke-width="2.79"/><line x1="497.00" y1="196.00" x2="510.50" y2="226.00" stroke-width="2.74"/><line x1="510.50" y1="226.00" x2="519.50" y2="248.50" stroke-width="2.79"/><line x1="519.50" y1="248.50" x2="524.00" y2="257.50" stroke-width="2.68"/><line x1="524.00" y1="257.50" x2="536.00" y2="283.00" stroke-width="2.71"/><line x1="536.00" y1="283.00" x2="555.50" y2="325.00" stroke-width="2.72"/><line x1="555.50" y1="325.00" x2="578.00" y2="380.50" stroke-width="2.78"/><line x1="578.00" y1="380.50" x2="587.00" y2="412.00" stroke-width="2.88"/><line x1="587.00" y1="412.00" x2="602.00" y2="460.00" stroke-width="2.86"/><line x1="602.00" y1="460.00" x2="612.50" y2="493.00" stroke-width="2.86"/><line x1="612.50" y1="493.00" x2="620.40" y2="512.00" stroke-width="2.77"/><line x1="620.40" y1="512.00" x2="632.00" y2="535.70" stroke-width="2.69"/><line x1="632.00" y1="535.70" x2="645.00" y2="565.70" stroke-width="2.75"/><line x1="645.00" y1="565.70" x2="664.30" y2="606.40" stroke-width="2.71"/><line x1="664.30" y1="606.40" x2="683.60" y2="645.00" stroke-width="2.68"/><line x1="683.60" y1="645.00" x2="698.60" y2="679.30" stroke-width="2.75"/><line x1="698.60" y1="679.30" x2="709.30" y2="702.90" stroke-width="2.73"/><line x1="709.30" y1="702.90" x2="720.00" y2="728.60" stroke-width="2.77"/><line x1="720.00" y1="728.60" x2="728.60" y2="752.10" stroke-width="2.82"/><line x1="728.60" y1="752.10" x2="734.30" y2="768.60" stroke-width="2.84"/><line x1="734.30" y1="768.60" x2="742.90" y2="796.40" stroke-width="2.87"/><line x1="742.90" y1="796.40" x2="749.30" y2="817.90" stroke-width="2.88"/><line x1="749.30" y1="817.90" x2="757.90" y2="854.30" stroke-width="2.92"/><line x1="757.90" y1="854.30" x2="764.30" y2="884.30" stroke-width="2.93"/><line x1="764.30" y1="884.30" x2="770.70" y2="914.30" stroke-width="2.93"/><line x1="770.70" y1="914.30" x2="776.10" y2="948.60" stroke-width="2.96"/><line x1="776.10" y1="948.60" x2="778.90" y2="974.30" stroke-width="2.98"/><line x1="778.90" y1="974.30" x2="778.20" y2="985.00" stroke-width="2.99"/><line x1="778.20" y1="985.00" x2="777.60" y2="1012.90" stroke-width="3.00"/><line x1="777.60" y1="1012.90" x2="780.40" y2="1025.70" stroke-width="2.93"/><line x1="780.40" y1="1025.70" x2="787.90" y2="1040.70" stroke-width="2.68"/><line x1="787.90" y1="1040.70" x2="790.90" y2="1047.70" stroke-width="2.76"/><line x1="790.90" y1="1047.70" x2="792.80" y2="1055.40" stroke-width="2.91"/><line x1="792.80" y1="1055.40" x2="793.20" y2="1078.60" stroke-width="3.00"/><line x1="793.20" y1="1078.60" x2="790.90" y2="1090.10" stroke-width="2.94"/><line x1="790.90" y1="1090.10" x2="785.70" y2="1099.10" stroke-width="2.60"/><line x1="785.70" y1="1099.10" x2="785.10" y2="1110.70" stroke-width="3.00"/><line x1="785.10" y1="1110.70" x2="787.60" y2="1118.40" stroke-width="2.85"/><line x1="787.60" y1="1118.40" x2="793.40" y2="1132.60" stroke-width="2.78"/><line x1="793.40" y1="1132.60" x2="801.10" y2="1146.70" stroke-width="2.63"/><line x1="801.10" y1="1146.70" x2="809.50" y2="1158.30" stroke-width="2.43"/><line x1="809.50" y1="1158.30" x2="819.10" y2="1173.70" stroke-width="2.55"/><line x1="819.10" y1="1173.70" x2="830.70" y2="1186.60" stroke-width="2.23"/><line x1="830.70" y1="1186.60" x2="841.00" y2="1197.50" stroke-width="2.18"/><line x1="841.00" y1="1197.50" x2="849.40" y2="1203.30" stroke-width="2.47"/><line x1="849.40" y1="1203.30" x2="862.90" y2="1204.60" stroke-width="2.99"/></g>
<g stroke="#0066ff" stroke-linecap="round"><line x1="400.50" y1="104.50" x2="401.00" y2="106.75" stroke-width="2.93"/><line x1="401.00" y1="106.75" x2="410.00" y2="130.00" stroke-width="2.80"/><line x1="410.00" y1="130.00" x2="425.00" y2="166.00" stroke-width="2.77"/><line x1="425.00" y1="166.00" x2="437.75" y2="200.50" stroke-width="2.81"/><line x1="437.75" y1="200.50" x2="449.00" y2="226.00" stroke-width="2.74"/><line x1="449.00" y1="226.00" x2="458.00" y2="254.50" stroke-width="2.86"/><line x1="458.00" y1="254.50" x2="464.75" y2="275.50" stroke-width="2.86"/><line x1="464.75" y1="275.50" x2="473.75" y2="293.50" stroke-width="2.68"/><line x1="473.75" y1="293.50" x2="483.50" y2="310.00" stroke-width="2.58"/><line x1="483.50" y1="310.00" x2="491.00" y2="326.50" stroke-width="2.73"/><line x1="491.00" y1="326.50" x2="500.00" y2="337.00" stroke-width="2.28"/><line x1="500.00" y1="337.00" x2="527.00" y2="373.00" stroke-width="2.40"/><line x1="527.00" y1="373.00" x2="534.50" y2="380.50" stroke-width="2.12"/><line x1="534.50" y1="380.50" x2="555.50" y2="439.00" stroke-width="2.82"/><line x1="555.50" y1="439.00" x2="543.60" y2="500.00" stroke-width="2.94"/><line x1="543.60" y1="500.00" x2="541.40" y2="511.80" stroke-width="2.95"/><line x1="541.40" y1="511.80" x2="517.90" y2="540.70" stroke-width="2.33"/><line x1="517.90" y1="540.70" x2="485.70" y2="581.40" stroke-width="2.35"/><line x1="485.70" y1="581.40" x2="447.10" y2="616.80" stroke-width="2.21"/><line x1="447.10" y1="616.80" x2="410.70" y2="652.10" stroke-width="2.15"/><line x1="410.70" y1="652.10" x2="391.40" y2="677.90" stroke-width="2.40"/><line x1="391.40" y1="677.90" x2="363.60" y2="714.30" stroke-width="2.38"/><line x1="363.60" y1="714.30" x2="360.40" y2="737.90" stroke-width="2.97"/><line x1="360.40" y1="737.90" x2="355.00" y2="765.70" stroke-width="2.94"/><line x1="355.00" y1="765.70" x2="358.90" y2="780.00" stroke-width="2.89"/><line x1="358.90" y1="780.00" x2="363.60" y2="805.10" stroke-width="2.95"/><line x1="363.60" y1="805.10" x2="374.60" y2="839.70" stroke-width="2.86"/><line x1="374.60" y1="839.70" x2="388.70" y2="877.40" stroke-width="2.81"/><line x1="388.70" y1="877.40" x2="409.10" y2="921.40" stroke-width="2.72"/><line x1="409.10" y1="921.40" x2="431.10" y2="954.40" stroke-width="2.50"/><line x1="431.10" y1="954.40" x2="440.60" y2="970.10" stroke-width="2.57"/><line x1="440.60" y1="970.10" x2="462.60" y2="998.40" stroke-width="2.37"/><line x1="462.60" y1="998.40" x2="487.70" y2="1020.40" stroke-width="2.26"/><line x1="487.70" y1="1020.40" x2="511.30" y2="1040.80" stroke-width="2.27"/><line x1="511.30" y1="1040.80" x2="541.10" y2="1055.00" stroke-width="2.71"/><line x1="541.10" y1="1055.00" x2="563.10" y2="1066.00" stroke-width="2.68"/><line x1="563.10" y1="1066.00" x2="578.80" y2="1078.60" stroke-width="2.34"/><line x1="578.80" y1="1078.60" x2="597.70" y2="1091.10" stroke-width="2.50"/><line x1="597.70" y1="1091.10" x2="608.70" y2="1102.10" stroke-width="2.12"/><line x1="608.70" y1="1102.10" x2="608.70" y2="1117.80" stroke-width="3.00"/><line x1="608.70" y1="1117.80" x2="604.00" y2="1146.10" stroke-width="2.96"/><line x1="604.00" y1="1146.10" x2="599.30" y2="1169.70" stroke-width="2.94"/><line x1="599.30" y1="1169.70" x2="596.10" y2="1188.60" stroke-width="2.96"/><line x1="596.10" y1="1188.60" x2="597.70" y2="1198.00" stroke-width="2.96"/><line x1="597.70" y1="1198.00" x2="604.00" y2="1203.60" stroke-width="2.24"/><line x1="604.00" y1="1203.60" x2="611.80" y2="1204.30" stroke-width="2.99"/></g>
<path d="M862.9,1204.6 L788.5,1112.3" fill="none" stroke="#7d005a" stroke-width="2" stroke-dasharray="17.5,7.5"/>
<circle cx="657.6" cy="1204.9" r="5.6" fill="#0066ff"/>
<circle cx="877.3" cy="1205.2" r="5.8" fill="#ff0000"/>
<text x="112.0" y="247.5" font-size="19" fill="none" stroke="#ffaf00" stroke-width="0.9" text-anchor="middle" dominant-baseline="central" transform="rotate(62 112.0 247.5)">10</text>
<text x="112.5" y="479.5" font-size="19" fill="none" stroke="#ffaf00" stroke-width="0.9" text-anchor="middle" dominant-baseline="central" transform="rotate(62 112.5 479.5)">0</text>
<text x="112.0" y="706.0" font-size="19" fill="none" stroke="#ffaf00" stroke-width="0.9" text-anchor="middle" dominant-baseline="central" transform="rotate(62 112.0 706.0)">-10</text>
<text x="111.0" y="929.0" font-size="19" fill="none" stroke="#ffaf00" stroke-width="0.9" text-anchor="middle" dominant-baseline="central" transform="rotate(62 111.0 929.0)">-20</text>
<text x="110.5" y="1155.0" font-size="19" fill="none" stroke="#ffaf00" stroke-width="0.9" text-anchor="middle" dominant-baseline="central" transform="rotate(62 110.5 1155.0)">-30</text>
<text x="1024.4" y="340.4" font-size="26" fill="none" stroke="#ffaf00" stroke-width="1" text-anchor="middle" dominant-baseline="central" transform="rotate(-44 1024.4 340.4)">0</text>
<text x="1059.0" y="531.0" font-size="26" fill="none" stroke="#ffaf00" stroke-width="1" text-anchor="middle" dominant-baseline="central" transform="rotate(-44 1059.0 531.0)">10</text>
<text x="1124.0" y="656.0" font-size="26" fill="none" stroke="#ffaf00" stroke-width="1" text-anchor="middle" dominant-baseline="central" transform="rotate(-44 1124.0 656.0)">20</text>
<text x="1196.0" y="779.0" font-size="26" fill="none" stroke="#ffaf00" stroke-width="1" text-anchor="middle" dominant-baseline="central" transform="rotate(-44 1196.0 779.0)">30</text>
<text x="325.0" y="1275.0" font-size="19" fill="none" stroke="#96dc00" stroke-width="0.9" text-anchor="middle" dominant-baseline="central" transform="rotate(-66 325.0 1275.0)">1</text>
<text x="440.0" y="1273.0" font-size="19" fill="none" stroke="#96dc00" stroke-width="0.9" text-anchor="middle" dominant-baseline="central" transform="rotate(-66 440.0 1273.0)">2</text>
<text x="508.0" y="1275.0" font-size="19" fill="none" stroke="#96dc00" stroke-width="0.9" text-anchor="middle" dominant-baseline="central" transform="rotate(-66 508.0 1275.0)">3</text>
<text x="603.6" y="1272.9" font-size="19" fill="none" stroke="#96dc00" stroke-width="0.9" text-anchor="middle" dominant-baseline="central" transform="rotate(-66 603.6 1272.9)">5</text>
<text x="691.0" y="1273.6" font-size="19" fill="none" stroke="#96dc00" stroke-width="0.9" text-anchor="middle" dominant-baseline="central" transform="rotate(-66 691.0 1273.6)">8</text>
<text x="771.4" y="1272.0" font-size="19" fill="none" stroke="#96dc00" stroke-width="0.9" text-anchor="middle" dominant-baseline="central" transform="rotate(-66 771.4 1272.0)">12</text>
<text x="876.8" y="1272.0" font-size="19" fill="none" stroke="#96dc00" stroke-width="0.9" text-anchor="middle" dominant-baseline="central" transform="rotate(-66 876.8 1272.0)">20</text>
<text x="87.650" y="70.950" font-size="32.430" fill="#000" font-weight="normal" textLength="142.804" lengthAdjust="spacingAndGlyphs" stroke="#000" stroke-width="0.6">#7: Ceres</text>
<text x="237.900" y="66.800" font-size="22.053" fill="#000" font-weight="normal" textLength="245.711" lengthAdjust="spacingAndGlyphs" stroke="#000" stroke-width="0.6">-33.3684°,19.3115° (40,45)</text>
<text x="511.650" y="71.050" font-size="33.288" fill="#000" font-weight="normal" textLength="223.392" lengthAdjust="spacingAndGlyphs" stroke="#000" stroke-width="0.6">Valid 1400 LST</text>
<text x="743.950" y="67.850" font-size="24.717" fill="#000" font-weight="bold" textLength="85.485" lengthAdjust="spacingAndGlyphs">(1200Z)</text>
<text x="836.600" y="70.700" font-size="33.722" fill="#000" font-weight="normal" textLength="252.702" lengthAdjust="spacingAndGlyphs" stroke="#000" stroke-width="0.6">SAT 21 Oct 2017</text>
<text x="1096.600" y="67.850" font-size="26.145" fill="#000" font-weight="normal" textLength="201.639" lengthAdjust="spacingAndGlyphs" stroke="#000" stroke-width="0.6">[12hrFcst@0354z]</text>
<text x="460.000" y="98.500" font-size="19.155" fill="#af0041" font-weight="bold" textLength="468.310" lengthAdjust="spacingAndGlyphs">Plcl=717 Tlcl[C]=-1 Shox=10 Pwat[cm]=1 Cape[J]= 33</text>
<text x="83.750" y="100.250" font-size="20.739" fill="#0ab400" font-weight="bold" textLength="27.779" lengthAdjust="spacingAndGlyphs">0.0</text>
<text x="132.000" y="100.250" font-size="20.739" fill="#0ab400" font-weight="bold" textLength="28.812" lengthAdjust="spacingAndGlyphs">0.5</text>
<text x="181.000" y="100.250" font-size="20.739" fill="#0ab400" font-weight="bold" textLength="26.678" lengthAdjust="spacingAndGlyphs">1.0</text>
<text x="84.250" y="123.750" font-size="19.312" fill="#000" font-weight="bold" textLength="26.865" lengthAdjust="spacingAndGlyphs">0.0</text>
<text x="132.500" y="123.750" font-size="19.312" fill="#000" font-weight="bold" textLength="27.974" lengthAdjust="spacingAndGlyphs">0.5</text>
<text x="181.000" y="123.750" font-size="19.312" fill="#000" font-weight="bold" textLength="26.828" lengthAdjust="spacingAndGlyphs">1.0</text>
<text x="84.125" y="1291.750" font-size="20.739" fill="#0ab400" font-weight="bold" textLength="27.762" lengthAdjust="spacingAndGlyphs">0.0</text>
<text x="131.750" y="1291.750" font-size="20.739" fill="#0ab400" font-weight="bold" textLength="28.846" lengthAdjust="spacingAndGlyphs">0.5</text>
<text x="181.500" y="1291.750" font-size="20.739" fill="#0ab400" font-weight="bold" textLength="26.678" lengthAdjust="spacingAndGlyphs">1.0</text>
<text x="219.125" y="1292.250" font-size="20.634" fill="#0ab400" font-weight="bold" textLength="163.038" lengthAdjust="spacingAndGlyphs">CloudWater (g/Kg)</text>
<text x="83.750" y="1314.375" font-size="18.259" fill="#000" font-weight="normal" textLength="27.461" lengthAdjust="spacingAndGlyphs">0.0</text>
<text x="131.250" y="1314.375" font-size="18.259" fill="#000" font-weight="normal" textLength="29.576" lengthAdjust="spacingAndGlyphs">0.5</text>
<text x="181.500" y="1314.375" font-size="18.259" fill="#000" font-weight="normal" textLength="26.432" lengthAdjust="spacingAndGlyphs">1.0</text>
<text x="219.000" y="1314.375" font-size="18.353" fill="#000" font-weight="normal" textLength="196.616" lengthAdjust="spacingAndGlyphs">Grid-Scale Cloudiness</text>
<text x="34.025" y="115.020" font-size="28.449" fill="#000" font-weight="bold" textLength="46.601" lengthAdjust="spacingAndGlyphs">250</text>
<text x="34.025" y="266.026" font-size="28.449" fill="#000" font-weight="bold" textLength="46.601" lengthAdjust="spacingAndGlyphs">300</text>
<text x="34.525" y="504.296" font-size="28.449" fill="#000" font-weight="bold" textLength="45.592" lengthAdjust="spacingAndGlyphs">400</text>
<text x="34.025" y="689.112" font-size="28.449" fill="#000" font-weight="bold" textLength="46.601" lengthAdjust="spacingAndGlyphs">500</text>
<text x="34.025" y="967.792" font-size="28.449" fill="#000" font-weight="bold" textLength="46.601" lengthAdjust="spacingAndGlyphs">700</text>
<text x="34.025" y="1128.600" font-size="28.449" fill="#000" font-weight="bold" textLength="46.601" lengthAdjust="spacingAndGlyphs">850</text>
<text x="19.975" y="1263.204" font-size="28.449" fill="#000" font-weight="bold" textLength="59.711" lengthAdjust="spacingAndGlyphs">1000</text>
<text x="125.950" y="1347.700" font-size="28.893" fill="#000" font-weight="normal" textLength="39.009" lengthAdjust="spacingAndGlyphs" stroke="#000" stroke-width="0.6">-30</text>
<text x="256.050" y="1347.700" font-size="28.893" fill="#000" font-weight="normal" textLength="40.243" lengthAdjust="spacingAndGlyphs" stroke="#000" stroke-width="0.6">-20</text>
<text x="387.350" y="1347.700" font-size="28.893" fill="#000" font-weight="normal" textLength="39.435" lengthAdjust="spacingAndGlyphs" stroke="#000" stroke-width="0.6">-10</text>
<text x="529.750" y="1347.700" font-size="28.893" fill="#000" font-weight="normal" textLength="15.818" lengthAdjust="spacingAndGlyphs" stroke="#000" stroke-width="0.6">0</text>
<text x="653.550" y="1347.700" font-size="28.893" fill="#000" font-weight="normal" textLength="29.034" lengthAdjust="spacingAndGlyphs" stroke="#000" stroke-width="0.6">10</text>
<text x="786.400" y="1347.700" font-size="28.893" fill="#000" font-weight="normal" textLength="28.063" lengthAdjust="spacingAndGlyphs" stroke="#000" stroke-width="0.6">20</text>
<text x="917.250" y="1347.700" font-size="28.893" fill="#000" font-weight="normal" textLength="28.063" lengthAdjust="spacingAndGlyphs" stroke="#000" stroke-width="0.6">30</text>
<text x="1048.100" y="1347.700" font-size="28.893" fill="#000" font-weight="normal" textLength="28.063" lengthAdjust="spacingAndGlyphs" stroke="#000" stroke-width="0.6">40</text>
<text x="603.250" y="1379.975" font-size="23.538" fill="#000" font-weight="normal" textLength="179.291" lengthAdjust="spacingAndGlyphs" stroke="#000" stroke-width="0.6">Temperature (C)</text>
<text x="1136.000" y="126.000" font-size="19.442" fill="#0ab400" font-weight="bold" textLength="10.812" lengthAdjust="spacingAndGlyphs">0</text>
<text x="1136.500" y="1293.000" font-size="19.442" fill="#0ab400" font-weight="bold" textLength="10.812" lengthAdjust="spacingAndGlyphs">0</text>
<text x="1203.000" y="126.000" font-size="19.442" fill="#0ab400" font-weight="bold" textLength="22.706" lengthAdjust="spacingAndGlyphs">20</text>
<text x="1203.500" y="1293.000" font-size="19.442" fill="#0ab400" font-weight="bold" textLength="22.706" lengthAdjust="spacingAndGlyphs">20</text>
<text x="1277.000" y="126.000" font-size="19.442" fill="#0ab400" font-weight="bold" textLength="21.625" lengthAdjust="spacingAndGlyphs">40</text>
<text x="1277.500" y="1293.000" font-size="19.442" fill="#0ab400" font-weight="bold" textLength="21.625" lengthAdjust="spacingAndGlyphs">40</text>
<text x="1348.000" y="126.000" font-size="19.442" fill="#0ab400" font-weight="bold" textLength="22.706" lengthAdjust="spacingAndGlyphs">60</text>
<text x="1348.500" y="1293.000" font-size="19.442" fill="#0ab400" font-weight="bold" textLength="22.706" lengthAdjust="spacingAndGlyphs">60</text>
<text x="1172.000" y="1314.400" font-size="17.895" fill="#0ab400" font-weight="bold" textLength="90.489" lengthAdjust="spacingAndGlyphs">Speed (kt)</text>
<text x="1319.000" y="1274.657" font-size="28.449" fill="#000" font-weight="normal" textLength="15.828" lengthAdjust="spacingAndGlyphs" stroke="#000" stroke-width="0.6">0</text>
<text x="1318.000" y="1214.287" font-size="28.449" fill="#000" font-weight="normal" textLength="17.046" lengthAdjust="spacingAndGlyphs" stroke="#000" stroke-width="0.6">2</text>
<text x="1319.000" y="1153.071" font-size="28.449" fill="#000" font-weight="normal" textLength="15.828" lengthAdjust="spacingAndGlyphs" stroke="#000" stroke-width="0.6">4</text>
<text x="1319.000" y="1090.984" font-size="28.449" fill="#000" font-weight="normal" textLength="15.828" lengthAdjust="spacingAndGlyphs" stroke="#000" stroke-width="0.6">6</text>
<text x="1319.000" y="1028.002" font-size="28.449" fill="#000" font-weight="normal" textLength="15.828" lengthAdjust="spacingAndGlyphs" stroke="#000" stroke-width="0.6">8</text>
<text x="1318.050" y="964.098" font-size="28.449" fill="#000" font-weight="normal" textLength="32.050" lengthAdjust="spacingAndGlyphs" stroke="#000" stroke-width="0.6">10</text>
<text x="1318.050" y="899.244" font-size="28.449" fill="#000" font-weight="normal" textLength="32.184" lengthAdjust="spacingAndGlyphs" stroke="#000" stroke-width="0.6">12</text>
<text x="1318.050" y="833.413" font-size="28.449" fill="#000" font-weight="normal" textLength="32.050" lengthAdjust="spacingAndGlyphs" stroke="#000" stroke-width="0.6">14</text>
<text x="1318.050" y="766.574" font-size="28.449" fill="#000" font-weight="normal" textLength="32.184" lengthAdjust="spacingAndGlyphs" stroke="#000" stroke-width="0.6">16</text>
<text x="1318.050" y="698.695" font-size="28.449" fill="#000" font-weight="normal" textLength="32.184" lengthAdjust="spacingAndGlyphs" stroke="#000" stroke-width="0.6">18</text>
<text x="1319.050" y="629.744" font-size="28.449" fill="#000" font-weight="normal" textLength="30.991" lengthAdjust="spacingAndGlyphs" stroke="#000" stroke-width="0.6">20</text>
<text x="1319.050" y="559.687" font-size="28.449" fill="#000" font-weight="normal" textLength="31.050" lengthAdjust="spacingAndGlyphs" stroke="#000" stroke-width="0.6">22</text>
<text x="1319.050" y="488.486" font-size="28.449" fill="#000" font-weight="normal" textLength="30.991" lengthAdjust="spacingAndGlyphs" stroke="#000" stroke-width="0.6">24</text>
<text x="1319.050" y="416.105" font-size="28.449" fill="#000" font-weight="normal" textLength="31.050" lengthAdjust="spacingAndGlyphs" stroke="#000" stroke-width="0.6">26</text>
<text x="1319.050" y="342.503" font-size="28.449" fill="#000" font-weight="normal" textLength="31.050" lengthAdjust="spacingAndGlyphs" stroke="#000" stroke-width="0.6">28</text>
<text x="1319.050" y="267.638" font-size="28.449" fill="#000" font-weight="normal" textLength="30.991" lengthAdjust="spacingAndGlyphs" stroke="#000" stroke-width="0.6">30</text>
<text x="1319.050" y="191.467" font-size="28.449" fill="#000" font-weight="normal" textLength="31.050" lengthAdjust="spacingAndGlyphs" stroke="#000" stroke-width="0.6">32</text>
<text x="29.850" y="768.950" font-size="24.748" fill="#000" font-weight="normal" textLength="81.725" lengthAdjust="spacingAndGlyphs" transform="rotate(-90 29.850 768.950)">P (hPa)</text>
<text x="1239.750" y="587.050" font-size="30.431" fill="#000" font-weight="normal" textLength="224.422" lengthAdjust="spacingAndGlyphs" transform="rotate(90 1239.750 587.050)">Height (1000 Feet)</text>
<line x1="1141.50" y1="104.00" x2="1141.50" y2="1265.00" stroke="#000" stroke-width="1.2"/>
<line x1="1142.50" y1="936.00" x2="1142.50" y2="956.00" stroke="#000" stroke-width="1.2"/>
<polyline points="1141.60,106.60 1190.70,101.25" fill="none" stroke="#000" stroke-width="1" shape-rendering="crispEdges"/>
<polyline points="1186.25,102.10 1195.20,114.60" fill="none" stroke="#000" stroke-width="1" shape-rendering="crispEdges"/>
<polyline points="1190.70,101.25 1199.60,115.50" fill="none" stroke="#000" stroke-width="1" shape-rendering="crispEdges"/>
<polyline points="1141.60,169.10 1190.70,171.80" fill="none" stroke="#000" stroke-width="1" shape-rendering="crispEdges"/>
<polyline points="1186.25,170.90 1189.80,178.90" fill="none" stroke="#000" stroke-width="1" shape-rendering="crispEdges"/>
<polyline points="1190.70,171.80 1197.90,185.20" fill="none" stroke="#000" stroke-width="1" shape-rendering="crispEdges"/>
<polyline points="1141.60,226.30 1190.70,232.50 1195.70,247.70" fill="none" stroke="#000" stroke-width="1" shape-rendering="crispEdges"/>
<polyline points="1141.60,278.90 1190.70,291.40 1192.50,307.50" fill="none" stroke="#000" stroke-width="1" shape-rendering="crispEdges"/>
<polyline points="1141.60,328.00 1188.90,342.30 1191.60,358.40" fill="none" stroke="#000" stroke-width="1" shape-rendering="crispEdges"/>
<polyline points="1141.60,380.70 1188.90,393.20 1191.60,409.30" fill="none" stroke="#000" stroke-width="1" shape-rendering="crispEdges"/>
<polyline points="1141.60,441.40 1186.25,461.10" fill="none" stroke="#000" stroke-width="1" shape-rendering="crispEdges"/>
<polyline points="1182.70,460.20 1182.70,467.30" fill="none" stroke="#000" stroke-width="1" shape-rendering="crispEdges"/>
<polyline points="1141.60,510.20 1189.80,520.90" fill="none" stroke="#000" stroke-width="1" shape-rendering="crispEdges"/>
<polyline points="1141.60,579.30 1108.60,545.40" fill="none" stroke="#000" stroke-width="1" shape-rendering="crispEdges"/>
<polyline points="1141.60,651.60 1097.90,631.10" fill="none" stroke="#000" stroke-width="1" shape-rendering="crispEdges"/>
<polyline points="1101.40,631.10 1101.40,623.90" fill="none" stroke="#000" stroke-width="1" shape-rendering="crispEdges"/>
<polyline points="1141.60,714.10 1095.20,704.30 1090.70,687.30" fill="none" stroke="#000" stroke-width="1" shape-rendering="crispEdges"/>
<polyline points="1141.60,767.70 1093.40,764.10 1087.10,748.00" fill="none" stroke="#000" stroke-width="1" shape-rendering="crispEdges"/>
<polyline points="1141.40,812.30 1092.30,814.10 1084.30,801.25" fill="none" stroke="#000" stroke-width="1" shape-rendering="crispEdges"/>
<polyline points="1141.40,847.10 1093.20,856.60 1083.40,843.20" fill="none" stroke="#000" stroke-width="1" shape-rendering="crispEdges"/>
<polyline points="1141.40,875.40 1095.00,887.30 1083.40,876.25" fill="none" stroke="#000" stroke-width="1" shape-rendering="crispEdges"/>
<polyline points="1141.40,897.10 1095.90,912.30" fill="none" stroke="#000" stroke-width="1" shape-rendering="crispEdges"/>
<polyline points="1099.50,911.10 1094.10,905.20" fill="none" stroke="#000" stroke-width="1" shape-rendering="crispEdges"/>
<polyline points="1141.40,917.30 1095.90,933.40" fill="none" stroke="#000" stroke-width="1" shape-rendering="crispEdges"/>
<polyline points="1100.40,931.60 1094.10,926.25" fill="none" stroke="#000" stroke-width="1" shape-rendering="crispEdges"/>
<polyline points="1141.40,936.10 1094.10,949.10" fill="none" stroke="#000" stroke-width="1" shape-rendering="crispEdges"/>
<polyline points="1099.50,947.10 1093.20,941.10" fill="none" stroke="#000" stroke-width="1" shape-rendering="crispEdges"/>
<polyline points="1141.40,953.40 1092.30,953.40" fill="none" stroke="#000" stroke-width="1" shape-rendering="crispEdges"/>
<polyline points="1141.40,968.20 1105.70,936.10" fill="none" stroke="#000" stroke-width="1" shape-rendering="crispEdges"/>
<polyline points="1141.60,999.70 1167.50,958.20" fill="none" stroke="#000" stroke-width="1" shape-rendering="crispEdges"/>
<polyline points="1165.20,962.00 1172.80,962.30" fill="none" stroke="#000" stroke-width="1" shape-rendering="crispEdges"/>
<polyline points="1141.60,1013.40 1171.30,975.40" fill="none" stroke="#000" stroke-width="1" shape-rendering="crispEdges"/>
<polyline points="1168.40,979.50 1176.70,980.60" fill="none" stroke="#000" stroke-width="1" shape-rendering="crispEdges"/>
<polyline points="1141.60,1025.40 1166.70,985.20" fill="none" stroke="#000" stroke-width="1" shape-rendering="crispEdges"/>
<polyline points="1164.10,989.40 1171.60,989.40" fill="none" stroke="#000" stroke-width="1" shape-rendering="crispEdges"/>
<polyline points="1141.60,1038.00 1155.00,993.70" fill="none" stroke="#000" stroke-width="1" shape-rendering="crispEdges"/>
<polyline points="1153.80,998.60 1162.70,997.80" fill="none" stroke="#000" stroke-width="1" shape-rendering="crispEdges"/>
<polyline points="1141.60,1049.40 1153.00,1000.30" fill="none" stroke="#000" stroke-width="1" shape-rendering="crispEdges"/>
<polyline points="1152.40,1009.40 1159.50,1008.90" fill="none" stroke="#000" stroke-width="1" shape-rendering="crispEdges"/>
<polyline points="1141.60,1062.00 1155.30,1019.70 1172.40,1016.60" fill="none" stroke="#000" stroke-width="1" shape-rendering="crispEdges"/>
<polyline points="1141.60,1074.60 1157.60,1032.90 1174.70,1029.40" fill="none" stroke="#000" stroke-width="1" shape-rendering="crispEdges"/>
<polyline points="1141.60,1086.00 1156.40,1043.70 1172.80,1040.90" fill="none" stroke="#000" stroke-width="1" shape-rendering="crispEdges"/>
<polyline points="1141.60,1098.60 1153.00,1058.00 1160.70,1057.40" fill="none" stroke="#000" stroke-width="1" shape-rendering="crispEdges"/>
<polyline points="1141.60,1108.90 1133.60,1064.30" fill="none" stroke="#000" stroke-width="1" shape-rendering="crispEdges"/>
<polyline points="1141.10,1123.20 1097.00,1102.20" fill="none" stroke="#000" stroke-width="1" shape-rendering="crispEdges"/>
<polyline points="1141.10,1134.40 1092.50,1131.40" fill="none" stroke="#000" stroke-width="1" shape-rendering="crispEdges"/>
<polyline points="1097.00,1131.40 1094.40,1124.70" fill="none" stroke="#000" stroke-width="1" shape-rendering="crispEdges"/>
<polyline points="1141.10,1146.20 1093.10,1149.50" fill="none" stroke="#000" stroke-width="1" shape-rendering="crispEdges"/>
<polyline points="1097.60,1149.10 1093.10,1142.10" fill="none" stroke="#000" stroke-width="1" shape-rendering="crispEdges"/>
<polyline points="1141.10,1156.20 1093.10,1162.60" fill="none" stroke="#000" stroke-width="1" shape-rendering="crispEdges"/>
<polyline points="1098.30,1161.40 1093.10,1154.00" fill="none" stroke="#000" stroke-width="1" shape-rendering="crispEdges"/>
<polyline points="1141.10,1167.10 1093.10,1173.60 1082.90,1160.10" fill="none" stroke="#000" stroke-width="1" shape-rendering="crispEdges"/>
<polyline points="1141.10,1177.20 1093.10,1183.50 1082.90,1170.00" fill="none" stroke="#000" stroke-width="1" shape-rendering="crispEdges"/>
<polyline points="1141.10,1185.10 1093.10,1192.50 1082.90,1179.00" fill="none" stroke="#000" stroke-width="1" shape-rendering="crispEdges"/>
<polyline points="1141.10,1192.20 1093.10,1199.50 1082.90,1185.80" fill="none" stroke="#000" stroke-width="1" shape-rendering="crispEdges"/>
<polyline points="1141.10,1198.60 1093.10,1205.30 1082.90,1192.20" fill="none" stroke="#000" stroke-width="1" shape-rendering="crispEdges"/>
<polyline points="1141.10,1203.10 1093.10,1210.20 1082.90,1196.70" fill="none" stroke="#000" stroke-width="1" shape-rendering="crispEdges"/>
<polyline points="1141.10,1205.10 1093.10,1213.70 1082.90,1200.80" fill="none" stroke="#000" stroke-width="1" shape-rendering="crispEdges"/>
<path d="M1214.00,106.00 L1194.30,171.80 L1183.60,227.10 L1178.20,287.90 L1174.60,339.00 L1169.30,387.90 L1156.80,447.70 L1147.00,505.70 L1148.75,540.00 L1151.40,575.70 L1158.60,620.40 L1167.50,665.00 L1174.60,709.60 L1177.30,745.40 L1178.20,790.00 L1178.60,796.80 L1177.10,816.40 L1174.50,850.40 L1170.00,877.10 L1164.60,902.10 L1158.40,925.40 L1152.10,943.20 L1148.60,955.70 L1147.50,966.20 L1149.60,984.30 L1153.00,1000.30 L1154.70,1020.90 L1155.90,1032.30 L1158.10,1041.40 L1165.00,1049.40 L1179.30,1065.40 L1182.10,1076.90 L1178.70,1087.10 L1175.30,1091.70 L1162.70,1098.60 L1153.60,1109.40 L1150.40,1112.50 L1150.40,1122.10 L1153.60,1129.90 L1163.90,1147.90 L1171.60,1164.60 L1178.00,1180.00 L1181.90,1195.40 L1179.30,1203.10 L1172.20,1204.40" fill="none" stroke="#0ab400" stroke-width="1" shape-rendering="crispEdges"/>
<line x1="1287.00" y1="104.00" x2="1287.00" y2="1294.50" stroke="#000" stroke-width="2"/>
<line x1="1287.00" y1="1264.50" x2="1302.00" y2="1264.50" stroke="#000" stroke-width="1"/>
<line x1="1287.00" y1="1203.50" x2="1302.00" y2="1203.50" stroke="#000" stroke-width="1"/>
<line x1="1287.00" y1="1142.50" x2="1302.00" y2="1142.50" stroke="#000" stroke-width="1"/>
<line x1="1287.00" y1="1080.50" x2="1302.00" y2="1080.50" stroke="#000" stroke-width="1"/>
<line x1="1287.00" y1="1017.50" x2="1302.00" y2="1017.50" stroke="#000" stroke-width="1"/>
<line x1="1287.00" y1="953.50" x2="1302.00" y2="953.50" stroke="#000" stroke-width="1"/>
<line x1="1287.00" y1="888.50" x2="1302.00" y2="888.50" stroke="#000" stroke-width="1"/>
<line x1="1287.00" y1="823.50" x2="1302.00" y2="823.50" stroke="#000" stroke-width="1"/>
<line x1="1287.00" y1="756.50" x2="1302.00" y2="756.50" stroke="#000" stroke-width="1"/>
<line x1="1287.00" y1="688.50" x2="1302.00" y2="688.50" stroke="#000" stroke-width="1"/>
<line x1="1287.00" y1="619.50" x2="1302.00" y2="619.50" stroke="#000" stroke-width="1"/>
<line x1="1287.00" y1="549.50" x2="1302.00" y2="549.50" stroke="#000" stroke-width="1"/>
<line x1="1287.00" y1="478.50" x2="1302.00" y2="478.50" stroke="#000" stroke-width="1"/>
<line x1="1287.00" y1="405.50" x2="1302.00" y2="405.50" stroke="#000" stroke-width="1"/>
<line x1="1287.00" y1="332.50" x2="1302.00" y2="332.50" stroke="#000" stroke-width="1"/>
<line x1="1287.00" y1="257.50" x2="1302.00" y2="257.50" stroke="#000" stroke-width="1"/>
<line x1="1287.00" y1="181.50" x2="1302.00" y2="181.50" stroke="#000" stroke-width="1"/>
</svg></body></html>
